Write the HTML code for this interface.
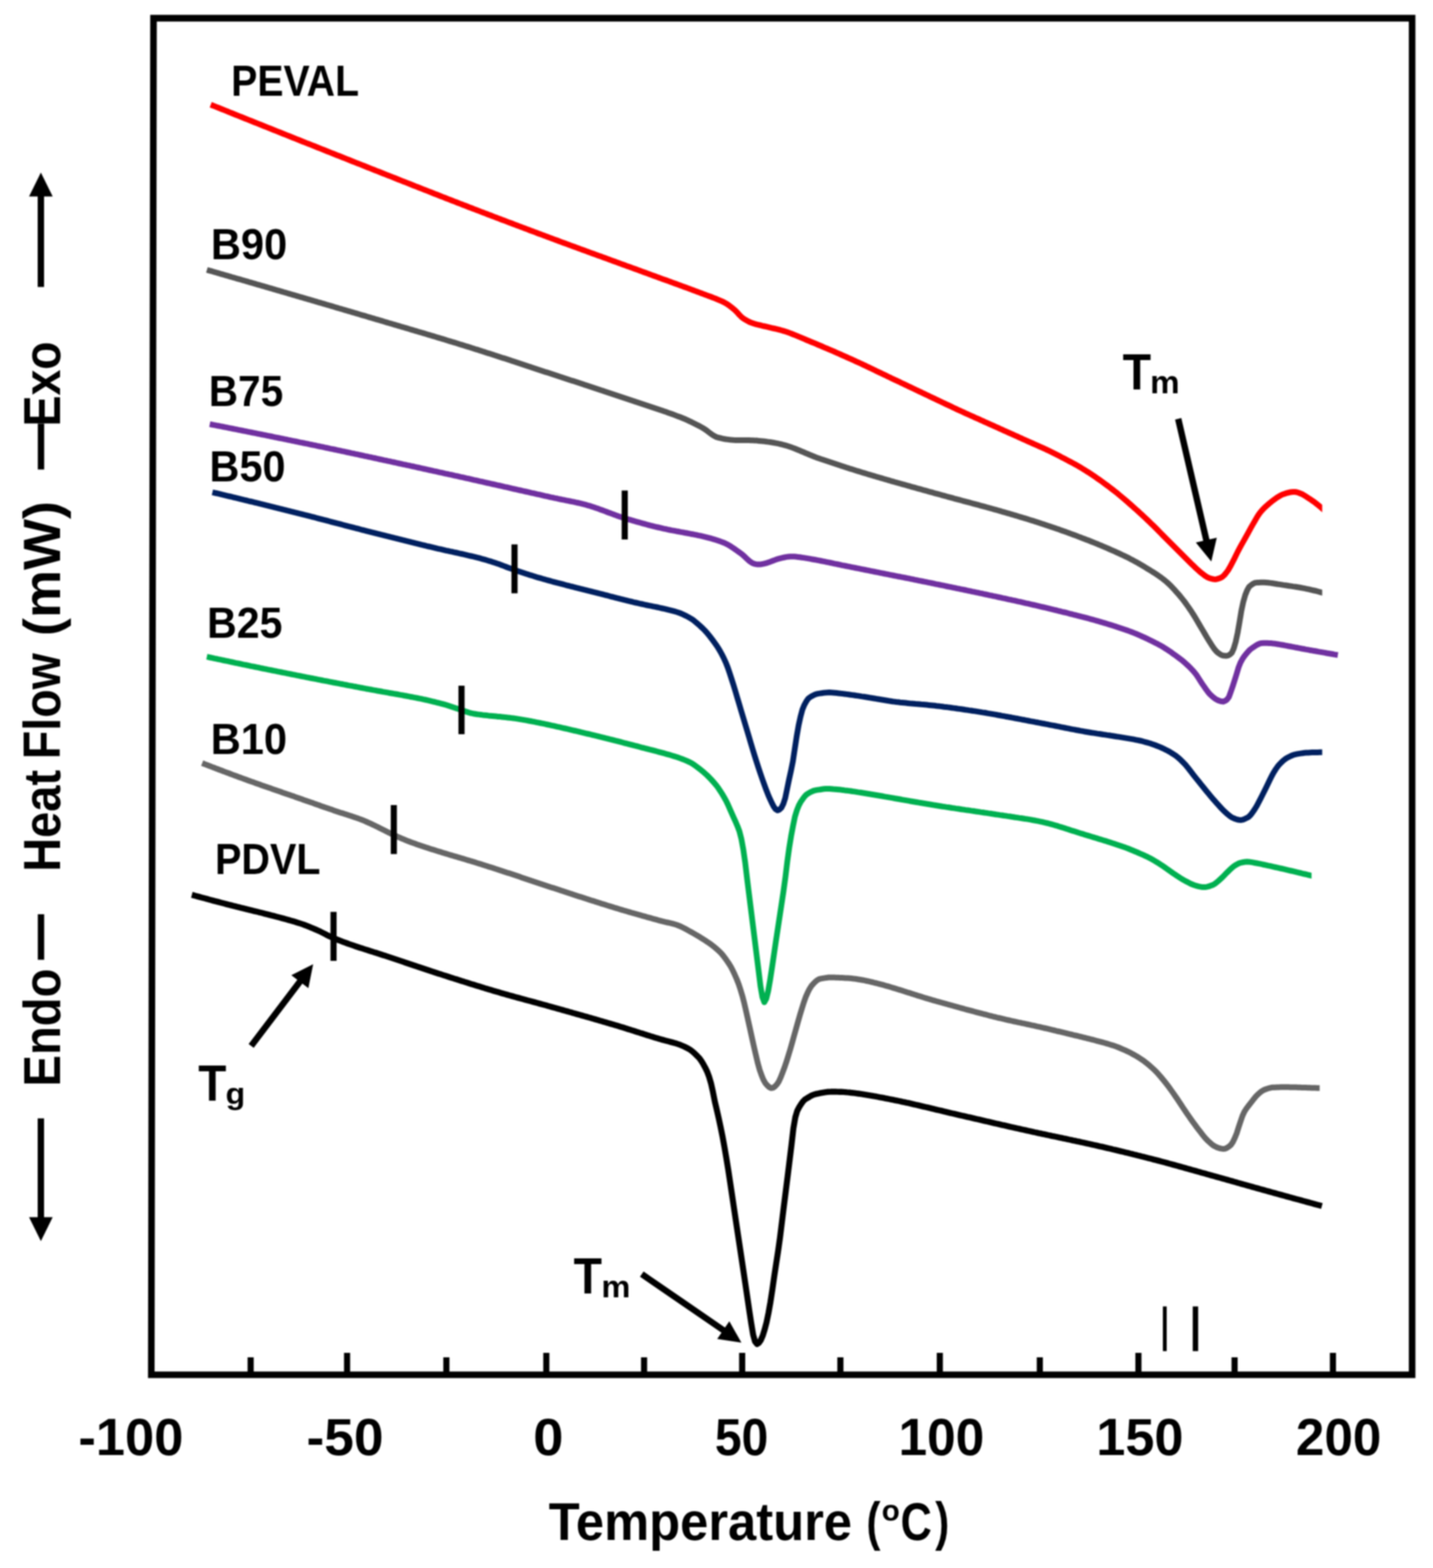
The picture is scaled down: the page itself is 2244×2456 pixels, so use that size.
<!DOCTYPE html>
<html lang="en">
<head>
<meta charset="utf-8">
<title>DSC thermograms</title>
<style>
html,body{margin:0;padding:0;background:#fff;}
body{width:2244px;height:2456px;overflow:hidden;}
svg{display:block;filter:blur(1px);}
text{font-family:"Liberation Sans",sans-serif;font-weight:bold;fill:#000;}
.c{fill:none;stroke-linejoin:round;stroke-linecap:butt;}
</style>
</head>
<body>
<svg xmlns="http://www.w3.org/2000/svg" width="2244" height="2456" viewBox="0 0 2244 2456">
<rect width="2244" height="2456" fill="#fff"/>
<g id="frame" stroke="#000" fill="none">
<path d="M240.4,28.5 L2211.3,28.5 L2211.3,2153.4 L236.9,2153.4 Z" stroke-width="10.3" stroke-linejoin="miter"/>
<line x1="392.5" y1="2153.4" x2="392.5" y2="2126.0" stroke-width="9.6"/>
<line x1="543.5" y1="2153.4" x2="543.5" y2="2119.0" stroke-width="9.6"/>
<line x1="699.0" y1="2153.4" x2="699.0" y2="2126.0" stroke-width="9.6"/>
<line x1="855.5" y1="2153.4" x2="855.5" y2="2119.0" stroke-width="9.6"/>
<line x1="1008.6" y1="2153.4" x2="1008.6" y2="2126.0" stroke-width="9.6"/>
<line x1="1162.2" y1="2153.4" x2="1162.2" y2="2119.0" stroke-width="9.6"/>
<line x1="1316.0" y1="2153.4" x2="1316.0" y2="2126.0" stroke-width="9.6"/>
<line x1="1471.7" y1="2153.4" x2="1471.7" y2="2119.0" stroke-width="9.6"/>
<line x1="1628.3" y1="2153.4" x2="1628.3" y2="2126.0" stroke-width="9.6"/>
<line x1="1782.7" y1="2153.4" x2="1782.7" y2="2119.0" stroke-width="9.6"/>
<line x1="1933.3" y1="2153.4" x2="1933.3" y2="2126.0" stroke-width="9.6"/>
<line x1="2087.3" y1="2153.4" x2="2087.3" y2="2119.0" stroke-width="9.6"/>
</g>
<g id="curves">
<clipPath id="cl-red"><rect x="0" y="0" width="2070.5" height="2456"/></clipPath>
<path class="c" stroke="#ff0000" stroke-width="9.0" clip-path="url(#cl-red)" d="M330.0,164.0 L333.0,165.2 L336.0,166.4 L339.0,167.6 L342.0,168.8 L345.0,170.0 L348.0,171.2 L351.0,172.4 L354.0,173.6 L357.0,174.8 L360.0,176.1 L363.0,177.3 L366.0,178.5 L369.0,179.7 L372.0,180.9 L375.0,182.1 L378.0,183.3 L381.0,184.5 L384.0,185.7 L387.0,186.9 L390.0,188.1 L393.0,189.3 L396.0,190.5 L399.0,191.7 L402.0,192.9 L405.0,194.1 L408.0,195.3 L411.0,196.5 L414.0,197.7 L417.0,198.9 L420.0,200.1 L423.0,201.3 L426.0,202.5 L429.0,203.7 L432.0,204.9 L435.0,206.1 L438.0,207.3 L441.0,208.5 L444.0,209.7 L447.0,210.9 L450.0,212.1 L453.0,213.3 L456.0,214.5 L459.0,215.7 L462.0,216.9 L465.0,218.1 L468.0,219.3 L471.0,220.5 L474.0,221.7 L477.0,222.9 L480.0,224.1 L483.0,225.2 L486.0,226.4 L489.0,227.6 L492.0,228.8 L495.0,230.0 L498.0,231.2 L501.0,232.4 L504.0,233.6 L507.0,234.8 L510.0,236.0 L513.0,237.2 L516.0,238.4 L519.0,239.6 L522.0,240.8 L525.0,242.0 L528.0,243.2 L531.0,244.3 L534.0,245.5 L537.0,246.7 L540.0,247.9 L543.0,249.1 L546.0,250.3 L549.0,251.5 L552.0,252.7 L555.0,253.9 L558.0,255.1 L561.0,256.3 L564.0,257.4 L567.0,258.6 L570.0,259.8 L573.0,261.0 L576.0,262.2 L579.0,263.4 L582.0,264.6 L585.0,265.8 L588.0,267.0 L591.0,268.1 L594.0,269.3 L597.0,270.5 L600.0,271.7 L603.0,272.9 L606.0,274.1 L609.0,275.3 L612.0,276.4 L615.0,277.6 L618.0,278.8 L621.0,280.0 L624.0,281.2 L627.0,282.4 L630.0,283.6 L633.0,284.8 L636.0,285.9 L639.0,287.1 L642.0,288.3 L645.0,289.5 L648.0,290.7 L651.0,291.9 L654.0,293.0 L657.0,294.2 L660.0,295.4 L663.0,296.6 L666.0,297.8 L669.0,298.9 L672.0,300.1 L675.0,301.3 L678.0,302.5 L681.0,303.7 L684.0,304.8 L687.0,306.0 L690.0,307.2 L693.0,308.4 L696.0,309.5 L699.0,310.7 L702.0,311.9 L705.0,313.0 L708.0,314.2 L711.0,315.4 L714.0,316.5 L717.0,317.7 L720.0,318.9 L723.0,320.0 L726.0,321.2 L729.0,322.3 L732.0,323.5 L735.0,324.7 L738.0,325.8 L741.0,327.0 L744.0,328.1 L747.0,329.3 L750.0,330.4 L753.0,331.6 L756.0,332.7 L759.0,333.9 L762.0,335.0 L765.0,336.2 L768.0,337.3 L771.0,338.5 L774.0,339.6 L777.0,340.7 L780.0,341.9 L783.0,343.0 L786.0,344.2 L789.0,345.3 L792.0,346.4 L795.0,347.6 L798.0,348.7 L801.0,349.8 L804.0,351.0 L807.0,352.1 L810.0,353.3 L813.0,354.4 L816.0,355.5 L819.0,356.6 L822.0,357.8 L825.0,358.9 L828.0,360.0 L831.0,361.2 L834.0,362.3 L837.0,363.4 L840.0,364.5 L843.0,365.7 L846.0,366.8 L849.0,367.9 L852.0,369.0 L855.0,370.1 L858.0,371.3 L861.0,372.4 L864.0,373.5 L867.0,374.6 L870.0,375.7 L873.0,376.8 L876.0,378.0 L879.0,379.1 L882.0,380.2 L885.0,381.3 L888.0,382.4 L891.0,383.5 L894.0,384.6 L897.0,385.7 L900.0,386.8 L903.0,387.9 L906.0,389.0 L909.0,390.1 L912.0,391.2 L915.0,392.3 L918.0,393.4 L921.0,394.5 L924.0,395.6 L927.0,396.7 L930.0,397.8 L933.0,398.9 L936.0,400.0 L939.0,401.1 L942.0,402.1 L945.0,403.2 L948.0,404.3 L951.0,405.4 L954.0,406.5 L957.0,407.6 L960.0,408.7 L963.0,409.8 L966.0,410.9 L969.0,412.0 L972.0,413.1 L975.0,414.2 L978.0,415.3 L981.0,416.4 L984.0,417.4 L987.0,418.5 L990.0,419.6 L993.0,420.7 L996.0,421.8 L999.0,422.9 L1002.0,424.0 L1005.0,425.1 L1008.0,426.2 L1011.0,427.3 L1014.0,428.4 L1017.0,429.5 L1020.0,430.6 L1023.0,431.7 L1026.0,432.8 L1029.0,433.9 L1032.0,435.0 L1035.0,436.1 L1038.0,437.2 L1041.0,438.2 L1044.0,439.3 L1047.0,440.4 L1050.0,441.5 L1053.0,442.6 L1056.0,443.7 L1059.0,444.8 L1062.0,445.9 L1065.0,447.0 L1068.0,448.1 L1071.0,449.2 L1074.0,450.3 L1077.0,451.4 L1080.0,452.5 L1083.0,453.6 L1086.0,454.8 L1089.0,455.9 L1092.0,457.0 L1095.0,458.1 L1098.0,459.2 L1101.0,460.4 L1104.0,461.5 L1107.0,462.6 L1110.0,463.7 L1113.0,464.8 L1116.0,466.0 L1119.0,467.1 L1122.0,468.3 L1125.0,469.6 L1128.0,470.9 L1131.0,472.2 L1134.0,473.6 L1137.0,475.3 L1140.0,477.3 L1143.0,479.4 L1146.0,481.8 L1149.0,484.2 L1152.0,486.8 L1155.0,490.0 L1158.0,493.4 L1161.0,496.4 L1164.0,498.8 L1167.0,500.7 L1170.0,502.4 L1173.0,504.0 L1176.0,505.3 L1179.0,506.4 L1182.0,507.3 L1185.0,508.1 L1188.0,508.8 L1191.0,509.5 L1194.0,510.3 L1197.0,511.0 L1200.0,511.7 L1203.0,512.4 L1206.0,513.1 L1209.0,513.8 L1212.0,514.5 L1215.0,515.2 L1218.0,515.9 L1221.0,516.7 L1224.0,517.5 L1227.0,518.4 L1230.0,519.3 L1233.0,520.3 L1236.0,521.4 L1239.0,522.5 L1242.0,523.7 L1245.0,524.9 L1248.0,526.1 L1251.0,527.4 L1254.0,528.6 L1257.0,529.9 L1260.0,531.2 L1263.0,532.5 L1266.0,533.7 L1269.0,535.0 L1272.0,536.2 L1275.0,537.4 L1278.0,538.7 L1281.0,540.0 L1284.0,541.2 L1287.0,542.5 L1290.0,543.8 L1293.0,545.1 L1296.0,546.3 L1299.0,547.6 L1302.0,548.9 L1305.0,550.2 L1308.0,551.5 L1311.0,552.9 L1314.0,554.2 L1317.0,555.5 L1320.0,556.8 L1323.0,558.2 L1326.0,559.5 L1329.0,560.8 L1332.0,562.2 L1335.0,563.5 L1338.0,564.9 L1341.0,566.3 L1344.0,567.6 L1347.0,569.0 L1350.0,570.4 L1353.0,571.8 L1356.0,573.2 L1359.0,574.7 L1362.0,576.1 L1365.0,577.5 L1368.0,579.0 L1371.0,580.4 L1374.0,581.9 L1377.0,583.3 L1380.0,584.7 L1383.0,586.2 L1386.0,587.6 L1389.0,589.1 L1392.0,590.5 L1395.0,591.9 L1398.0,593.4 L1401.0,594.8 L1404.0,596.2 L1407.0,597.6 L1410.0,599.1 L1413.0,600.5 L1416.0,601.9 L1419.0,603.3 L1422.0,604.8 L1425.0,606.2 L1428.0,607.6 L1431.0,609.0 L1434.0,610.5 L1437.0,611.9 L1440.0,613.3 L1443.0,614.7 L1446.0,616.2 L1449.0,617.6 L1452.0,619.0 L1455.0,620.4 L1458.0,621.9 L1461.0,623.3 L1464.0,624.7 L1467.0,626.2 L1470.0,627.6 L1473.0,629.0 L1476.0,630.5 L1479.0,631.9 L1482.0,633.3 L1485.0,634.7 L1488.0,636.1 L1491.0,637.6 L1494.0,639.0 L1497.0,640.4 L1500.0,641.8 L1503.0,643.1 L1506.0,644.5 L1509.0,645.9 L1512.0,647.3 L1515.0,648.6 L1518.0,650.0 L1521.0,651.4 L1524.0,652.7 L1527.0,654.1 L1530.0,655.4 L1533.0,656.7 L1536.0,658.1 L1539.0,659.4 L1542.0,660.8 L1545.0,662.1 L1548.0,663.5 L1551.0,664.8 L1554.0,666.2 L1557.0,667.5 L1560.0,668.9 L1563.0,670.2 L1566.0,671.6 L1569.0,672.9 L1572.0,674.3 L1575.0,675.6 L1578.0,677.0 L1581.0,678.3 L1584.0,679.7 L1587.0,681.0 L1590.0,682.4 L1593.0,683.7 L1596.0,685.1 L1599.0,686.4 L1602.0,687.8 L1605.0,689.1 L1608.0,690.5 L1611.0,691.8 L1614.0,693.2 L1617.0,694.5 L1620.0,695.8 L1623.0,697.1 L1626.0,698.5 L1629.0,699.8 L1632.0,701.2 L1635.0,702.5 L1638.0,703.9 L1641.0,705.3 L1644.0,706.8 L1647.0,708.3 L1650.0,709.8 L1653.0,711.3 L1656.0,712.8 L1659.0,714.3 L1662.0,715.9 L1665.0,717.4 L1668.0,719.0 L1671.0,720.6 L1674.0,722.2 L1677.0,723.8 L1680.0,725.4 L1683.0,727.0 L1686.0,728.7 L1689.0,730.4 L1692.0,732.2 L1695.0,734.0 L1698.0,735.8 L1701.0,737.7 L1704.0,739.6 L1707.0,741.6 L1710.0,743.6 L1713.0,745.6 L1716.0,747.6 L1719.0,749.7 L1722.0,751.8 L1725.0,753.9 L1728.0,756.1 L1731.0,758.3 L1734.0,760.5 L1737.0,762.8 L1740.0,765.1 L1743.0,767.4 L1746.0,769.7 L1749.0,772.1 L1752.0,774.6 L1755.0,777.1 L1758.0,779.6 L1761.0,782.2 L1764.0,784.7 L1767.0,787.4 L1770.0,790.0 L1773.0,792.6 L1776.0,795.3 L1779.0,798.0 L1782.0,800.7 L1785.0,803.5 L1788.0,806.2 L1791.0,809.0 L1794.0,811.8 L1797.0,814.6 L1800.0,817.5 L1803.0,820.4 L1806.0,823.3 L1809.0,826.3 L1812.0,829.3 L1815.0,832.4 L1818.0,835.4 L1821.0,838.5 L1824.0,841.5 L1827.0,844.5 L1830.0,847.5 L1833.0,850.5 L1836.0,853.5 L1839.0,856.5 L1842.0,859.5 L1845.0,862.5 L1848.0,865.5 L1851.0,868.5 L1854.0,871.5 L1857.0,874.5 L1860.0,877.5 L1863.0,880.5 L1866.0,883.4 L1869.0,886.3 L1872.0,889.2 L1875.0,892.0 L1878.0,894.7 L1881.0,897.2 L1884.0,899.6 L1887.0,901.9 L1890.0,903.8 L1893.0,905.2 L1896.0,906.2 L1899.0,907.0 L1902.0,907.4 L1905.0,907.2 L1908.0,906.4 L1911.0,905.2 L1914.0,903.7 L1917.0,901.0 L1920.0,897.4 L1923.0,893.4 L1926.0,888.3 L1929.0,882.6 L1932.0,876.9 L1935.0,870.8 L1938.0,864.6 L1941.0,858.9 L1944.0,853.4 L1947.0,848.1 L1950.0,842.8 L1953.0,837.3 L1956.0,831.8 L1959.0,826.4 L1962.0,821.1 L1965.0,815.9 L1968.0,810.7 L1971.0,806.0 L1974.0,801.9 L1977.0,798.5 L1980.0,795.4 L1983.0,792.6 L1986.0,790.0 L1989.0,787.4 L1992.0,785.0 L1995.0,782.7 L1998.0,780.6 L2001.0,778.6 L2004.0,776.7 L2007.0,775.1 L2010.0,773.9 L2013.0,772.9 L2016.0,772.0 L2019.0,771.3 L2022.0,770.8 L2025.0,770.5 L2028.0,770.5 L2031.0,771.0 L2034.0,772.0 L2037.0,773.2 L2040.0,774.5 L2043.0,776.3 L2046.0,778.2 L2049.0,780.2 L2052.0,782.1 L2055.0,784.2 L2058.0,786.3 L2061.0,788.6 L2064.0,791.0 L2067.0,793.4 L2070.0,796.0 L2073.0,798.6 L2076.0,801.3 L2079.0,804.1 L2080.0,805.0"/>
<clipPath id="cl-b90"><rect x="0" y="0" width="2070.5" height="2456"/></clipPath>
<path class="c" stroke="#555555" stroke-width="9.0" clip-path="url(#cl-b90)" d="M324.0,422.7 L327.0,423.6 L330.0,424.4 L333.0,425.3 L336.0,426.2 L339.0,427.0 L342.0,427.9 L345.0,428.8 L348.0,429.6 L351.0,430.5 L354.0,431.4 L357.0,432.2 L360.0,433.1 L363.0,434.0 L366.0,434.8 L369.0,435.7 L372.0,436.6 L375.0,437.4 L378.0,438.3 L381.0,439.2 L384.0,440.0 L387.0,440.9 L390.0,441.8 L393.0,442.6 L396.0,443.5 L399.0,444.4 L402.0,445.3 L405.0,446.1 L408.0,447.0 L411.0,447.9 L414.0,448.7 L417.0,449.6 L420.0,450.5 L423.0,451.4 L426.0,452.2 L429.0,453.1 L432.0,454.0 L435.0,454.9 L438.0,455.7 L441.0,456.6 L444.0,457.5 L447.0,458.3 L450.0,459.2 L453.0,460.1 L456.0,461.0 L459.0,461.9 L462.0,462.7 L465.0,463.6 L468.0,464.5 L471.0,465.4 L474.0,466.2 L477.0,467.1 L480.0,468.0 L483.0,468.9 L486.0,469.7 L489.0,470.6 L492.0,471.5 L495.0,472.4 L498.0,473.3 L501.0,474.1 L504.0,475.0 L507.0,475.9 L510.0,476.8 L513.0,477.7 L516.0,478.5 L519.0,479.4 L522.0,480.3 L525.0,481.2 L528.0,482.1 L531.0,483.0 L534.0,483.8 L537.0,484.7 L540.0,485.6 L543.0,486.5 L546.0,487.4 L549.0,488.2 L552.0,489.1 L555.0,490.0 L558.0,490.9 L561.0,491.8 L564.0,492.7 L567.0,493.6 L570.0,494.4 L573.0,495.3 L576.0,496.2 L579.0,497.1 L582.0,498.0 L585.0,498.9 L588.0,499.8 L591.0,500.6 L594.0,501.5 L597.0,502.4 L600.0,503.3 L603.0,504.2 L606.0,505.1 L609.0,506.0 L612.0,506.8 L615.0,507.7 L618.0,508.6 L621.0,509.5 L624.0,510.4 L627.0,511.3 L630.0,512.2 L633.0,513.0 L636.0,513.9 L639.0,514.8 L642.0,515.7 L645.0,516.6 L648.0,517.5 L651.0,518.4 L654.0,519.3 L657.0,520.2 L660.0,521.0 L663.0,521.9 L666.0,522.8 L669.0,523.7 L672.0,524.6 L675.0,525.5 L678.0,526.4 L681.0,527.3 L684.0,528.2 L687.0,529.1 L690.0,530.0 L693.0,530.9 L696.0,531.8 L699.0,532.8 L702.0,533.7 L705.0,534.6 L708.0,535.5 L711.0,536.4 L714.0,537.3 L717.0,538.2 L720.0,539.2 L723.0,540.1 L726.0,541.0 L729.0,542.0 L732.0,542.9 L735.0,543.8 L738.0,544.8 L741.0,545.7 L744.0,546.7 L747.0,547.6 L750.0,548.6 L753.0,549.5 L756.0,550.5 L759.0,551.4 L762.0,552.4 L765.0,553.4 L768.0,554.3 L771.0,555.3 L774.0,556.3 L777.0,557.2 L780.0,558.2 L783.0,559.2 L786.0,560.2 L789.0,561.1 L792.0,562.1 L795.0,563.1 L798.0,564.1 L801.0,565.1 L804.0,566.0 L807.0,567.0 L810.0,568.0 L813.0,569.0 L816.0,570.0 L819.0,571.0 L822.0,572.0 L825.0,573.0 L828.0,574.0 L831.0,574.9 L834.0,575.9 L837.0,576.9 L840.0,577.9 L843.0,578.9 L846.0,579.9 L849.0,580.9 L852.0,581.9 L855.0,582.9 L858.0,583.8 L861.0,584.8 L864.0,585.8 L867.0,586.8 L870.0,587.8 L873.0,588.8 L876.0,589.8 L879.0,590.7 L882.0,591.7 L885.0,592.7 L888.0,593.7 L891.0,594.7 L894.0,595.7 L897.0,596.6 L900.0,597.6 L903.0,598.6 L906.0,599.6 L909.0,600.6 L912.0,601.6 L915.0,602.6 L918.0,603.5 L921.0,604.5 L924.0,605.5 L927.0,606.5 L930.0,607.5 L933.0,608.5 L936.0,609.5 L939.0,610.5 L942.0,611.5 L945.0,612.4 L948.0,613.4 L951.0,614.4 L954.0,615.4 L957.0,616.4 L960.0,617.4 L963.0,618.4 L966.0,619.4 L969.0,620.4 L972.0,621.4 L975.0,622.4 L978.0,623.4 L981.0,624.4 L984.0,625.4 L987.0,626.4 L990.0,627.4 L993.0,628.4 L996.0,629.5 L999.0,630.5 L1002.0,631.5 L1005.0,632.5 L1008.0,633.5 L1011.0,634.5 L1014.0,635.5 L1017.0,636.5 L1020.0,637.5 L1023.0,638.5 L1026.0,639.5 L1029.0,640.5 L1032.0,641.5 L1035.0,642.5 L1038.0,643.5 L1041.0,644.6 L1044.0,645.6 L1047.0,646.7 L1050.0,647.7 L1053.0,648.8 L1056.0,649.9 L1059.0,651.1 L1062.0,652.2 L1065.0,653.3 L1068.0,654.5 L1071.0,655.7 L1074.0,657.0 L1077.0,658.4 L1080.0,659.8 L1083.0,661.2 L1086.0,662.7 L1089.0,664.2 L1092.0,665.7 L1095.0,667.3 L1098.0,668.9 L1101.0,670.6 L1104.0,672.5 L1107.0,674.7 L1110.0,677.0 L1113.0,679.3 L1116.0,681.4 L1119.0,683.2 L1122.0,684.6 L1125.0,685.5 L1128.0,686.2 L1131.0,686.9 L1134.0,687.5 L1137.0,688.0 L1140.0,688.4 L1143.0,688.8 L1146.0,689.1 L1149.0,689.3 L1152.0,689.4 L1155.0,689.4 L1158.0,689.5 L1161.0,689.5 L1164.0,689.5 L1167.0,689.6 L1170.0,689.6 L1173.0,689.6 L1176.0,689.7 L1179.0,689.8 L1182.0,689.9 L1185.0,690.1 L1188.0,690.4 L1191.0,690.7 L1194.0,691.0 L1197.0,691.3 L1200.0,691.7 L1203.0,692.1 L1206.0,692.5 L1209.0,693.0 L1212.0,693.5 L1215.0,694.1 L1218.0,694.7 L1221.0,695.3 L1224.0,696.0 L1227.0,696.8 L1230.0,697.6 L1233.0,698.5 L1236.0,699.5 L1239.0,700.5 L1242.0,701.6 L1245.0,702.8 L1248.0,704.0 L1251.0,705.2 L1254.0,706.5 L1257.0,707.7 L1260.0,709.0 L1263.0,710.3 L1266.0,711.5 L1269.0,712.8 L1272.0,714.0 L1275.0,715.2 L1278.0,716.4 L1281.0,717.5 L1284.0,718.5 L1287.0,719.6 L1290.0,720.6 L1293.0,721.6 L1296.0,722.6 L1299.0,723.6 L1302.0,724.6 L1305.0,725.6 L1308.0,726.6 L1311.0,727.6 L1314.0,728.6 L1317.0,729.6 L1320.0,730.5 L1323.0,731.5 L1326.0,732.5 L1329.0,733.4 L1332.0,734.4 L1335.0,735.3 L1338.0,736.2 L1341.0,737.2 L1344.0,738.1 L1347.0,739.0 L1350.0,740.0 L1353.0,740.9 L1356.0,741.8 L1359.0,742.7 L1362.0,743.6 L1365.0,744.5 L1368.0,745.4 L1371.0,746.3 L1374.0,747.2 L1377.0,748.0 L1380.0,748.9 L1383.0,749.8 L1386.0,750.7 L1389.0,751.5 L1392.0,752.4 L1395.0,753.3 L1398.0,754.1 L1401.0,755.0 L1404.0,755.8 L1407.0,756.7 L1410.0,757.5 L1413.0,758.4 L1416.0,759.2 L1419.0,760.0 L1422.0,760.9 L1425.0,761.7 L1428.0,762.6 L1431.0,763.4 L1434.0,764.2 L1437.0,765.1 L1440.0,765.9 L1443.0,766.7 L1446.0,767.6 L1449.0,768.4 L1452.0,769.2 L1455.0,770.1 L1458.0,770.9 L1461.0,771.7 L1464.0,772.6 L1467.0,773.4 L1470.0,774.2 L1473.0,775.0 L1476.0,775.9 L1479.0,776.7 L1482.0,777.5 L1485.0,778.3 L1488.0,779.1 L1491.0,779.9 L1494.0,780.8 L1497.0,781.6 L1500.0,782.4 L1503.0,783.2 L1506.0,784.0 L1509.0,784.8 L1512.0,785.6 L1515.0,786.4 L1518.0,787.2 L1521.0,788.0 L1524.0,788.8 L1527.0,789.6 L1530.0,790.4 L1533.0,791.2 L1536.0,792.1 L1539.0,792.9 L1542.0,793.7 L1545.0,794.5 L1548.0,795.3 L1551.0,796.2 L1554.0,797.0 L1557.0,797.9 L1560.0,798.7 L1563.0,799.5 L1566.0,800.4 L1569.0,801.3 L1572.0,802.1 L1575.0,803.0 L1578.0,803.9 L1581.0,804.7 L1584.0,805.6 L1587.0,806.5 L1590.0,807.4 L1593.0,808.3 L1596.0,809.2 L1599.0,810.1 L1602.0,811.0 L1605.0,811.9 L1608.0,812.8 L1611.0,813.8 L1614.0,814.7 L1617.0,815.6 L1620.0,816.6 L1623.0,817.5 L1626.0,818.5 L1629.0,819.5 L1632.0,820.5 L1635.0,821.4 L1638.0,822.4 L1641.0,823.4 L1644.0,824.4 L1647.0,825.5 L1650.0,826.5 L1653.0,827.5 L1656.0,828.6 L1659.0,829.6 L1662.0,830.7 L1665.0,831.8 L1668.0,832.8 L1671.0,833.9 L1674.0,835.0 L1677.0,836.1 L1680.0,837.2 L1683.0,838.3 L1686.0,839.4 L1689.0,840.6 L1692.0,841.7 L1695.0,842.9 L1698.0,844.0 L1701.0,845.2 L1704.0,846.3 L1707.0,847.5 L1710.0,848.7 L1713.0,849.9 L1716.0,851.1 L1719.0,852.3 L1722.0,853.6 L1725.0,854.8 L1728.0,856.1 L1731.0,857.4 L1734.0,858.7 L1737.0,860.0 L1740.0,861.3 L1743.0,862.6 L1746.0,863.9 L1749.0,865.3 L1752.0,866.7 L1755.0,868.1 L1758.0,869.5 L1761.0,870.9 L1764.0,872.3 L1767.0,873.8 L1770.0,875.4 L1773.0,876.9 L1776.0,878.6 L1779.0,880.2 L1782.0,881.9 L1785.0,883.7 L1788.0,885.4 L1791.0,887.2 L1794.0,889.0 L1797.0,890.9 L1800.0,892.7 L1803.0,894.5 L1806.0,896.4 L1809.0,898.3 L1812.0,900.3 L1815.0,902.4 L1818.0,904.5 L1821.0,906.8 L1824.0,909.1 L1827.0,911.6 L1830.0,914.3 L1833.0,917.2 L1836.0,920.3 L1839.0,923.5 L1842.0,926.9 L1845.0,930.3 L1848.0,933.8 L1851.0,937.5 L1854.0,941.3 L1857.0,945.3 L1860.0,949.5 L1863.0,953.9 L1866.0,958.3 L1869.0,963.0 L1872.0,967.9 L1875.0,973.0 L1878.0,978.1 L1881.0,983.2 L1884.0,988.3 L1887.0,993.4 L1890.0,998.5 L1893.0,1003.4 L1896.0,1008.1 L1899.0,1012.8 L1902.0,1017.1 L1905.0,1020.5 L1908.0,1023.1 L1911.0,1025.1 L1914.0,1026.5 L1917.0,1027.1 L1920.0,1027.3 L1923.0,1026.9 L1926.0,1025.2 L1929.0,1022.5 L1932.0,1015.6 L1935.0,1005.5 L1938.0,991.6 L1941.0,974.5 L1944.0,956.3 L1947.0,942.4 L1950.0,932.0 L1953.0,924.5 L1956.0,919.1 L1959.0,916.6 L1962.0,914.5 L1965.0,913.0 L1968.0,912.6 L1971.0,912.4 L1974.0,912.3 L1977.0,912.2 L1980.0,912.2 L1983.0,912.4 L1986.0,912.7 L1989.0,913.1 L1992.0,913.5 L1995.0,914.0 L1998.0,914.5 L2001.0,915.0 L2004.0,915.4 L2007.0,915.9 L2010.0,916.4 L2013.0,916.8 L2016.0,917.2 L2019.0,917.7 L2022.0,918.1 L2025.0,918.6 L2028.0,919.0 L2031.0,919.5 L2034.0,920.0 L2037.0,920.5 L2040.0,921.1 L2043.0,921.7 L2046.0,922.3 L2049.0,922.9 L2052.0,923.6 L2055.0,924.3 L2058.0,925.0 L2061.0,925.7 L2064.0,926.5 L2067.0,927.3 L2070.0,928.1 L2073.0,929.0 L2076.0,929.8 L2079.0,930.7 L2080.0,931.0"/>
<path class="c" stroke="#7030a0" stroke-width="9.0" d="M328.5,664.4 L331.5,665.0 L334.5,665.6 L337.5,666.2 L340.5,666.8 L343.5,667.3 L346.5,667.9 L349.5,668.5 L352.5,669.1 L355.5,669.7 L358.5,670.3 L361.5,670.9 L364.5,671.5 L367.5,672.1 L370.5,672.7 L373.5,673.3 L376.5,673.9 L379.5,674.5 L382.5,675.1 L385.5,675.7 L388.5,676.3 L391.5,676.9 L394.5,677.5 L397.5,678.1 L400.5,678.7 L403.5,679.3 L406.5,679.9 L409.5,680.5 L412.5,681.1 L415.5,681.7 L418.5,682.3 L421.5,682.9 L424.5,683.5 L427.5,684.2 L430.5,684.8 L433.5,685.4 L436.5,686.0 L439.5,686.6 L442.5,687.2 L445.5,687.8 L448.5,688.4 L451.5,689.1 L454.5,689.7 L457.5,690.3 L460.5,690.9 L463.5,691.5 L466.5,692.1 L469.5,692.8 L472.5,693.4 L475.5,694.0 L478.5,694.6 L481.5,695.2 L484.5,695.9 L487.5,696.5 L490.5,697.1 L493.5,697.7 L496.5,698.4 L499.5,699.0 L502.5,699.6 L505.5,700.2 L508.5,700.9 L511.5,701.5 L514.5,702.1 L517.5,702.8 L520.5,703.4 L523.5,704.0 L526.5,704.7 L529.5,705.3 L532.5,705.9 L535.5,706.6 L538.5,707.2 L541.5,707.8 L544.5,708.5 L547.5,709.1 L550.5,709.8 L553.5,710.4 L556.5,711.1 L559.5,711.7 L562.5,712.3 L565.5,713.0 L568.5,713.6 L571.5,714.3 L574.5,714.9 L577.5,715.6 L580.5,716.2 L583.5,716.9 L586.5,717.5 L589.5,718.2 L592.5,718.8 L595.5,719.5 L598.5,720.1 L601.5,720.8 L604.5,721.4 L607.5,722.1 L610.5,722.7 L613.5,723.4 L616.5,724.0 L619.5,724.7 L622.5,725.3 L625.5,726.0 L628.5,726.6 L631.5,727.3 L634.5,727.9 L637.5,728.6 L640.5,729.2 L643.5,729.9 L646.5,730.5 L649.5,731.2 L652.5,731.8 L655.5,732.5 L658.5,733.2 L661.5,733.8 L664.5,734.5 L667.5,735.1 L670.5,735.8 L673.5,736.5 L676.5,737.1 L679.5,737.8 L682.5,738.4 L685.5,739.1 L688.5,739.8 L691.5,740.4 L694.5,741.1 L697.5,741.8 L700.5,742.4 L703.5,743.1 L706.5,743.7 L709.5,744.4 L712.5,745.1 L715.5,745.7 L718.5,746.4 L721.5,747.1 L724.5,747.7 L727.5,748.4 L730.5,749.1 L733.5,749.7 L736.5,750.4 L739.5,751.1 L742.5,751.8 L745.5,752.4 L748.5,753.1 L751.5,753.8 L754.5,754.4 L757.5,755.1 L760.5,755.8 L763.5,756.5 L766.5,757.1 L769.5,757.8 L772.5,758.5 L775.5,759.2 L778.5,759.9 L781.5,760.5 L784.5,761.2 L787.5,761.9 L790.5,762.6 L793.5,763.2 L796.5,763.9 L799.5,764.6 L802.5,765.3 L805.5,766.0 L808.5,766.6 L811.5,767.3 L814.5,768.0 L817.5,768.7 L820.5,769.3 L823.5,770.0 L826.5,770.7 L829.5,771.4 L832.5,772.1 L835.5,772.7 L838.5,773.4 L841.5,774.1 L844.5,774.7 L847.5,775.4 L850.5,776.1 L853.5,776.8 L856.5,777.4 L859.5,778.1 L862.5,778.8 L865.5,779.4 L868.5,780.1 L871.5,780.7 L874.5,781.4 L877.5,782.0 L880.5,782.6 L883.5,783.2 L886.5,783.8 L889.5,784.4 L892.5,785.0 L895.5,785.6 L898.5,786.2 L901.5,786.9 L904.5,787.5 L907.5,788.2 L910.5,788.9 L913.5,789.7 L916.5,790.4 L919.5,791.3 L922.5,792.1 L925.5,793.1 L928.5,794.0 L931.5,795.0 L934.5,796.1 L937.5,797.1 L940.5,798.2 L943.5,799.3 L946.5,800.4 L949.5,801.5 L952.5,802.7 L955.5,803.8 L958.5,804.9 L961.5,806.0 L964.5,807.1 L967.5,808.2 L970.5,809.2 L973.5,810.2 L976.5,811.1 L979.5,812.1 L982.5,813.0 L985.5,813.9 L988.5,814.7 L991.5,815.6 L994.5,816.5 L997.5,817.4 L1000.5,818.2 L1003.5,819.0 L1006.5,819.9 L1009.5,820.7 L1012.5,821.5 L1015.5,822.3 L1018.5,823.1 L1021.5,823.8 L1024.5,824.6 L1027.5,825.3 L1030.5,826.0 L1033.5,826.7 L1036.5,827.4 L1039.5,828.1 L1042.5,828.7 L1045.5,829.4 L1048.5,830.0 L1051.5,830.6 L1054.5,831.1 L1057.5,831.7 L1060.5,832.3 L1063.5,832.8 L1066.5,833.4 L1069.5,833.9 L1072.5,834.5 L1075.5,835.0 L1078.5,835.6 L1081.5,836.2 L1084.5,836.7 L1087.5,837.3 L1090.5,837.9 L1093.5,838.6 L1096.5,839.2 L1099.5,839.9 L1102.5,840.6 L1105.5,841.3 L1108.5,842.1 L1111.5,842.9 L1114.5,843.7 L1117.5,844.6 L1120.5,845.5 L1123.5,846.5 L1126.5,847.5 L1129.5,848.6 L1132.5,849.7 L1135.5,850.9 L1138.5,852.4 L1141.5,854.1 L1144.5,855.9 L1147.5,857.9 L1150.5,860.0 L1153.5,862.1 L1156.5,864.2 L1159.5,866.4 L1162.5,868.6 L1165.5,871.3 L1168.5,874.2 L1171.5,877.0 L1174.5,879.6 L1177.5,881.6 L1180.5,882.9 L1183.5,883.6 L1186.5,884.1 L1189.5,884.0 L1192.5,883.7 L1195.5,883.1 L1198.5,882.4 L1201.5,881.6 L1204.5,880.6 L1207.5,879.4 L1210.5,878.2 L1213.5,877.1 L1216.5,876.0 L1219.5,875.1 L1222.5,874.4 L1225.5,873.7 L1228.5,873.0 L1231.5,872.4 L1234.5,872.0 L1237.5,871.7 L1240.5,871.7 L1243.5,871.8 L1246.5,872.1 L1249.5,872.4 L1252.5,872.7 L1255.5,873.2 L1258.5,873.6 L1261.5,874.1 L1264.5,874.6 L1267.5,875.1 L1270.5,875.7 L1273.5,876.2 L1276.5,876.7 L1279.5,877.3 L1282.5,877.9 L1285.5,878.5 L1288.5,879.1 L1291.5,879.7 L1294.5,880.3 L1297.5,880.9 L1300.5,881.5 L1303.5,882.1 L1306.5,882.8 L1309.5,883.4 L1312.5,884.0 L1315.5,884.6 L1318.5,885.3 L1321.5,885.9 L1324.5,886.5 L1327.5,887.1 L1330.5,887.7 L1333.5,888.3 L1336.5,888.9 L1339.5,889.5 L1342.5,890.1 L1345.5,890.7 L1348.5,891.3 L1351.5,891.9 L1354.5,892.5 L1357.5,893.1 L1360.5,893.7 L1363.5,894.3 L1366.5,894.9 L1369.5,895.5 L1372.5,896.1 L1375.5,896.7 L1378.5,897.3 L1381.5,897.9 L1384.5,898.5 L1387.5,899.1 L1390.5,899.7 L1393.5,900.3 L1396.5,900.9 L1399.5,901.5 L1402.5,902.1 L1405.5,902.7 L1408.5,903.2 L1411.5,903.8 L1414.5,904.4 L1417.5,905.0 L1420.5,905.6 L1423.5,906.2 L1426.5,906.8 L1429.5,907.4 L1432.5,908.1 L1435.5,908.7 L1438.5,909.3 L1441.5,909.9 L1444.5,910.5 L1447.5,911.1 L1450.5,911.7 L1453.5,912.3 L1456.5,912.9 L1459.5,913.5 L1462.5,914.1 L1465.5,914.8 L1468.5,915.4 L1471.5,916.0 L1474.5,916.6 L1477.5,917.2 L1480.5,917.8 L1483.5,918.5 L1486.5,919.1 L1489.5,919.7 L1492.5,920.3 L1495.5,920.9 L1498.5,921.6 L1501.5,922.2 L1504.5,922.8 L1507.5,923.4 L1510.5,924.0 L1513.5,924.7 L1516.5,925.3 L1519.5,925.9 L1522.5,926.6 L1525.5,927.2 L1528.5,927.8 L1531.5,928.4 L1534.5,929.1 L1537.5,929.7 L1540.5,930.4 L1543.5,931.0 L1546.5,931.6 L1549.5,932.3 L1552.5,932.9 L1555.5,933.6 L1558.5,934.2 L1561.5,934.8 L1564.5,935.5 L1567.5,936.1 L1570.5,936.8 L1573.5,937.4 L1576.5,938.1 L1579.5,938.8 L1582.5,939.4 L1585.5,940.1 L1588.5,940.7 L1591.5,941.4 L1594.5,942.1 L1597.5,942.7 L1600.5,943.4 L1603.5,944.1 L1606.5,944.8 L1609.5,945.4 L1612.5,946.1 L1615.5,946.8 L1618.5,947.5 L1621.5,948.2 L1624.5,948.9 L1627.5,949.6 L1630.5,950.3 L1633.5,951.0 L1636.5,951.7 L1639.5,952.4 L1642.5,953.1 L1645.5,953.9 L1648.5,954.6 L1651.5,955.3 L1654.5,956.0 L1657.5,956.8 L1660.5,957.5 L1663.5,958.3 L1666.5,959.0 L1669.5,959.7 L1672.5,960.5 L1675.5,961.3 L1678.5,962.0 L1681.5,962.8 L1684.5,963.5 L1687.5,964.3 L1690.5,965.1 L1693.5,965.9 L1696.5,966.6 L1699.5,967.4 L1702.5,968.2 L1705.5,969.0 L1708.5,969.9 L1711.5,970.7 L1714.5,971.5 L1717.5,972.4 L1720.5,973.2 L1723.5,974.1 L1726.5,975.0 L1729.5,975.9 L1732.5,976.8 L1735.5,977.7 L1738.5,978.6 L1741.5,979.5 L1744.5,980.5 L1747.5,981.4 L1750.5,982.4 L1753.5,983.4 L1756.5,984.4 L1759.5,985.4 L1762.5,986.4 L1765.5,987.5 L1768.5,988.6 L1771.5,989.7 L1774.5,990.9 L1777.5,992.1 L1780.5,993.3 L1783.5,994.6 L1786.5,996.0 L1789.5,997.3 L1792.5,998.7 L1795.5,1000.1 L1798.5,1001.6 L1801.5,1003.0 L1804.5,1004.5 L1807.5,1006.0 L1810.5,1007.6 L1813.5,1009.1 L1816.5,1010.7 L1819.5,1012.4 L1822.5,1014.2 L1825.5,1016.1 L1828.5,1018.0 L1831.5,1020.1 L1834.5,1022.1 L1837.5,1024.3 L1840.5,1026.4 L1843.5,1028.6 L1846.5,1030.9 L1849.5,1033.1 L1852.5,1035.5 L1855.5,1038.1 L1858.5,1040.8 L1861.5,1043.6 L1864.5,1046.7 L1867.5,1049.8 L1870.5,1053.2 L1873.5,1057.0 L1876.5,1061.6 L1879.5,1066.4 L1882.5,1071.0 L1885.5,1075.3 L1888.5,1079.6 L1891.5,1083.7 L1894.5,1087.2 L1897.5,1090.1 L1900.5,1092.7 L1903.5,1094.9 L1906.5,1096.5 L1909.5,1097.7 L1912.5,1098.6 L1915.5,1098.9 L1918.5,1097.8 L1921.5,1095.7 L1924.5,1091.6 L1927.5,1083.2 L1930.5,1074.5 L1933.5,1065.2 L1936.5,1055.5 L1939.5,1045.4 L1942.5,1037.9 L1945.5,1032.3 L1948.5,1027.9 L1951.5,1024.2 L1954.5,1020.6 L1957.5,1017.5 L1960.5,1015.2 L1963.5,1013.2 L1966.5,1011.2 L1969.5,1009.5 L1972.5,1008.2 L1975.5,1007.4 L1978.5,1007.2 L1981.5,1007.2 L1984.5,1007.2 L1987.5,1007.4 L1990.5,1007.6 L1993.5,1007.9 L1996.5,1008.3 L1999.5,1008.7 L2002.5,1009.2 L2005.5,1009.8 L2008.5,1010.3 L2011.5,1010.8 L2014.5,1011.4 L2017.5,1012.0 L2020.5,1012.5 L2023.5,1013.1 L2026.5,1013.7 L2029.5,1014.3 L2032.5,1014.8 L2035.5,1015.4 L2038.5,1016.0 L2041.5,1016.5 L2044.5,1017.1 L2047.5,1017.6 L2050.5,1018.2 L2053.5,1018.7 L2056.5,1019.3 L2059.5,1019.8 L2062.5,1020.3 L2065.5,1020.9 L2068.5,1021.4 L2071.5,1021.9 L2074.5,1022.4 L2077.5,1023.0 L2080.5,1023.5 L2083.5,1024.0 L2086.5,1024.5 L2089.5,1025.1 L2092.5,1025.6 L2095.0,1026.0"/>
<clipPath id="cl-b50"><rect x="0" y="0" width="2070.5" height="2456"/></clipPath>
<path class="c" stroke="#002060" stroke-width="9.0" clip-path="url(#cl-b50)" d="M332.6,771.1 L335.6,771.8 L338.6,772.5 L341.6,773.2 L344.6,773.9 L347.6,774.7 L350.6,775.4 L353.6,776.1 L356.6,776.8 L359.6,777.5 L362.6,778.2 L365.6,779.0 L368.6,779.7 L371.6,780.4 L374.6,781.1 L377.6,781.9 L380.6,782.6 L383.6,783.3 L386.6,784.0 L389.6,784.8 L392.6,785.5 L395.6,786.2 L398.6,787.0 L401.6,787.7 L404.6,788.4 L407.6,789.2 L410.6,789.9 L413.6,790.6 L416.6,791.4 L419.6,792.1 L422.6,792.9 L425.6,793.6 L428.6,794.3 L431.6,795.1 L434.6,795.8 L437.6,796.6 L440.6,797.3 L443.6,798.1 L446.6,798.8 L449.6,799.6 L452.6,800.3 L455.6,801.1 L458.6,801.8 L461.6,802.6 L464.6,803.3 L467.6,804.1 L470.6,804.8 L473.6,805.6 L476.6,806.4 L479.6,807.1 L482.6,807.9 L485.6,808.7 L488.6,809.5 L491.6,810.2 L494.6,811.0 L497.6,811.8 L500.6,812.6 L503.6,813.4 L506.6,814.2 L509.6,814.9 L512.6,815.7 L515.6,816.5 L518.6,817.3 L521.6,818.1 L524.6,818.9 L527.6,819.7 L530.6,820.4 L533.6,821.2 L536.6,822.0 L539.6,822.8 L542.6,823.6 L545.6,824.4 L548.6,825.1 L551.6,825.9 L554.6,826.7 L557.6,827.5 L560.6,828.2 L563.6,829.0 L566.6,829.8 L569.6,830.5 L572.6,831.3 L575.6,832.1 L578.6,832.8 L581.6,833.6 L584.6,834.3 L587.6,835.1 L590.6,835.9 L593.6,836.6 L596.6,837.4 L599.6,838.1 L602.6,838.9 L605.6,839.7 L608.6,840.4 L611.6,841.2 L614.6,841.9 L617.6,842.7 L620.6,843.4 L623.6,844.2 L626.6,844.9 L629.6,845.7 L632.6,846.4 L635.6,847.2 L638.6,847.9 L641.6,848.6 L644.6,849.4 L647.6,850.1 L650.6,850.9 L653.6,851.6 L656.6,852.3 L659.6,853.1 L662.6,853.8 L665.6,854.5 L668.6,855.3 L671.6,856.0 L674.6,856.7 L677.6,857.4 L680.6,858.1 L683.6,858.9 L686.6,859.6 L689.6,860.2 L692.6,860.9 L695.6,861.6 L698.6,862.3 L701.6,862.9 L704.6,863.6 L707.6,864.2 L710.6,864.9 L713.6,865.5 L716.6,866.2 L719.6,866.9 L722.6,867.5 L725.6,868.2 L728.6,868.9 L731.6,869.6 L734.6,870.3 L737.6,871.0 L740.6,871.7 L743.6,872.4 L746.6,873.2 L749.6,873.9 L752.6,874.7 L755.6,875.6 L758.6,876.4 L761.6,877.3 L764.6,878.2 L767.6,879.1 L770.6,880.1 L773.6,881.0 L776.6,882.0 L779.6,883.1 L782.6,884.1 L785.6,885.3 L788.6,886.4 L791.6,887.5 L794.6,888.7 L797.6,889.8 L800.6,890.9 L803.6,892.0 L806.6,893.0 L809.6,894.0 L812.6,895.0 L815.6,896.0 L818.6,897.0 L821.6,898.0 L824.6,899.0 L827.6,899.9 L830.6,900.9 L833.6,901.8 L836.6,902.7 L839.6,903.7 L842.6,904.6 L845.6,905.4 L848.6,906.3 L851.6,907.2 L854.6,908.0 L857.6,908.8 L860.6,909.6 L863.6,910.5 L866.6,911.3 L869.6,912.1 L872.6,912.9 L875.6,913.6 L878.6,914.4 L881.6,915.2 L884.6,916.0 L887.6,916.8 L890.6,917.5 L893.6,918.3 L896.6,919.0 L899.6,919.8 L902.6,920.6 L905.6,921.3 L908.6,922.1 L911.6,922.8 L914.6,923.6 L917.6,924.3 L920.6,925.1 L923.6,925.8 L926.6,926.6 L929.6,927.4 L932.6,928.1 L935.6,928.9 L938.6,929.7 L941.6,930.4 L944.6,931.2 L947.6,932.0 L950.6,932.7 L953.6,933.5 L956.6,934.3 L959.6,935.0 L962.6,935.8 L965.6,936.6 L968.6,937.3 L971.6,938.1 L974.6,938.8 L977.6,939.6 L980.6,940.3 L983.6,941.1 L986.6,941.8 L989.6,942.5 L992.6,943.3 L995.6,944.0 L998.6,944.7 L1001.6,945.4 L1004.6,946.0 L1007.6,946.7 L1010.6,947.3 L1013.6,948.0 L1016.6,948.6 L1019.6,949.2 L1022.6,949.8 L1025.6,950.4 L1028.6,951.0 L1031.6,951.7 L1034.6,952.3 L1037.6,953.0 L1040.6,953.6 L1043.6,954.3 L1046.6,955.1 L1049.6,955.8 L1052.6,956.6 L1055.6,957.4 L1058.6,958.3 L1061.6,959.2 L1064.6,960.3 L1067.6,961.5 L1070.6,962.9 L1073.6,964.3 L1076.6,965.9 L1079.6,967.5 L1082.6,969.3 L1085.6,971.3 L1088.6,973.7 L1091.6,976.2 L1094.6,978.8 L1097.6,981.6 L1100.6,984.4 L1103.6,987.4 L1106.6,990.7 L1109.6,994.3 L1112.6,998.1 L1115.6,1002.0 L1118.6,1006.1 L1121.6,1010.3 L1124.6,1014.9 L1127.6,1019.9 L1130.6,1025.4 L1133.6,1031.3 L1136.6,1037.8 L1139.6,1045.5 L1142.6,1054.3 L1145.6,1063.5 L1148.6,1072.9 L1151.6,1082.7 L1154.6,1092.9 L1157.6,1103.1 L1160.6,1113.2 L1163.6,1123.2 L1166.6,1133.2 L1169.6,1143.2 L1172.6,1153.2 L1175.6,1163.4 L1178.6,1173.5 L1181.6,1183.4 L1184.6,1192.9 L1187.6,1202.2 L1190.6,1211.2 L1193.6,1219.9 L1196.6,1228.3 L1199.6,1236.5 L1202.6,1244.2 L1205.6,1251.2 L1208.6,1257.7 L1211.6,1263.4 L1214.6,1267.5 L1217.6,1269.3 L1220.6,1268.0 L1223.6,1265.2 L1226.6,1259.3 L1229.6,1250.1 L1232.6,1235.7 L1235.6,1221.0 L1238.6,1207.6 L1241.6,1192.7 L1244.6,1172.8 L1247.6,1153.3 L1250.6,1136.0 L1253.6,1122.4 L1256.6,1111.2 L1259.6,1104.1 L1262.6,1098.6 L1265.6,1094.3 L1268.6,1092.0 L1271.6,1090.2 L1274.6,1088.6 L1277.6,1087.3 L1280.6,1086.6 L1283.6,1086.1 L1286.6,1085.7 L1289.6,1085.3 L1292.6,1084.9 L1295.6,1084.7 L1298.6,1084.6 L1301.6,1084.8 L1304.6,1085.0 L1307.6,1085.3 L1310.6,1085.6 L1313.6,1085.9 L1316.6,1086.3 L1319.6,1086.6 L1322.6,1087.0 L1325.6,1087.4 L1328.6,1087.8 L1331.6,1088.2 L1334.6,1088.6 L1337.6,1089.0 L1340.6,1089.5 L1343.6,1089.9 L1346.6,1090.4 L1349.6,1090.9 L1352.6,1091.3 L1355.6,1091.8 L1358.6,1092.3 L1361.6,1092.8 L1364.6,1093.2 L1367.6,1093.7 L1370.6,1094.2 L1373.6,1094.8 L1376.6,1095.3 L1379.6,1095.8 L1382.6,1096.3 L1385.6,1096.8 L1388.6,1097.3 L1391.6,1097.8 L1394.6,1098.2 L1397.6,1098.7 L1400.6,1099.1 L1403.6,1099.5 L1406.6,1099.8 L1409.6,1100.2 L1412.6,1100.5 L1415.6,1100.8 L1418.6,1101.1 L1421.6,1101.4 L1424.6,1101.7 L1427.6,1101.9 L1430.6,1102.2 L1433.6,1102.5 L1436.6,1102.7 L1439.6,1103.0 L1442.6,1103.3 L1445.6,1103.5 L1448.6,1103.8 L1451.6,1104.1 L1454.6,1104.4 L1457.6,1104.7 L1460.6,1105.0 L1463.6,1105.3 L1466.6,1105.7 L1469.6,1106.0 L1472.6,1106.4 L1475.6,1106.8 L1478.6,1107.2 L1481.6,1107.5 L1484.6,1107.9 L1487.6,1108.3 L1490.6,1108.7 L1493.6,1109.1 L1496.6,1109.5 L1499.6,1110.0 L1502.6,1110.4 L1505.6,1110.8 L1508.6,1111.2 L1511.6,1111.7 L1514.6,1112.1 L1517.6,1112.6 L1520.6,1113.0 L1523.6,1113.5 L1526.6,1113.9 L1529.6,1114.4 L1532.6,1114.9 L1535.6,1115.4 L1538.6,1115.9 L1541.6,1116.3 L1544.6,1116.8 L1547.6,1117.4 L1550.6,1117.9 L1553.6,1118.4 L1556.6,1118.9 L1559.6,1119.4 L1562.6,1120.0 L1565.6,1120.5 L1568.6,1121.1 L1571.6,1121.6 L1574.6,1122.2 L1577.6,1122.7 L1580.6,1123.3 L1583.6,1123.8 L1586.6,1124.4 L1589.6,1125.0 L1592.6,1125.5 L1595.6,1126.1 L1598.6,1126.7 L1601.6,1127.3 L1604.6,1127.8 L1607.6,1128.4 L1610.6,1129.0 L1613.6,1129.6 L1616.6,1130.1 L1619.6,1130.7 L1622.6,1131.3 L1625.6,1131.8 L1628.6,1132.4 L1631.6,1133.0 L1634.6,1133.5 L1637.6,1134.1 L1640.6,1134.7 L1643.6,1135.3 L1646.6,1135.9 L1649.6,1136.4 L1652.6,1137.0 L1655.6,1137.6 L1658.6,1138.2 L1661.6,1138.8 L1664.6,1139.4 L1667.6,1140.0 L1670.6,1140.6 L1673.6,1141.2 L1676.6,1141.8 L1679.6,1142.4 L1682.6,1142.9 L1685.6,1143.5 L1688.6,1144.0 L1691.6,1144.6 L1694.6,1145.1 L1697.6,1145.7 L1700.6,1146.2 L1703.6,1146.7 L1706.6,1147.2 L1709.6,1147.7 L1712.6,1148.1 L1715.6,1148.6 L1718.6,1149.1 L1721.6,1149.5 L1724.6,1150.0 L1727.6,1150.5 L1730.6,1150.9 L1733.6,1151.4 L1736.6,1151.8 L1739.6,1152.3 L1742.6,1152.7 L1745.6,1153.2 L1748.6,1153.7 L1751.6,1154.1 L1754.6,1154.6 L1757.6,1155.1 L1760.6,1155.6 L1763.6,1156.1 L1766.6,1156.6 L1769.6,1157.1 L1772.6,1157.6 L1775.6,1158.2 L1778.6,1158.8 L1781.6,1159.4 L1784.6,1160.0 L1787.6,1160.7 L1790.6,1161.5 L1793.6,1162.3 L1796.6,1163.1 L1799.6,1164.0 L1802.6,1164.9 L1805.6,1165.9 L1808.6,1167.0 L1811.6,1168.2 L1814.6,1169.4 L1817.6,1170.7 L1820.6,1172.0 L1823.6,1173.4 L1826.6,1174.9 L1829.6,1176.5 L1832.6,1178.2 L1835.6,1180.1 L1838.6,1182.0 L1841.6,1184.0 L1844.6,1186.4 L1847.6,1189.1 L1850.6,1192.0 L1853.6,1195.0 L1856.6,1198.2 L1859.6,1201.8 L1862.6,1205.6 L1865.6,1209.5 L1868.6,1213.4 L1871.6,1217.2 L1874.6,1221.0 L1877.6,1224.7 L1880.6,1228.5 L1883.6,1232.2 L1886.6,1235.9 L1889.6,1239.6 L1892.6,1243.2 L1895.6,1246.8 L1898.6,1250.4 L1901.6,1253.8 L1904.6,1257.2 L1907.6,1260.6 L1910.6,1263.9 L1913.6,1267.1 L1916.6,1270.2 L1919.6,1272.9 L1922.6,1275.6 L1925.6,1278.0 L1928.6,1280.1 L1931.6,1281.5 L1934.6,1282.7 L1937.6,1283.7 L1940.6,1284.2 L1943.6,1284.4 L1946.6,1283.8 L1949.6,1282.6 L1952.6,1281.1 L1955.6,1279.3 L1958.6,1276.3 L1961.6,1272.3 L1964.6,1267.9 L1967.6,1263.0 L1970.6,1257.4 L1973.6,1251.6 L1976.6,1245.8 L1979.6,1239.8 L1982.6,1233.7 L1985.6,1227.6 L1988.6,1221.3 L1991.6,1215.2 L1994.6,1209.8 L1997.6,1205.0 L2000.6,1200.7 L2003.6,1197.1 L2006.6,1194.1 L2009.6,1191.3 L2012.6,1188.9 L2015.6,1187.0 L2018.6,1185.5 L2021.6,1184.0 L2024.6,1182.8 L2027.6,1181.8 L2030.6,1181.2 L2033.6,1180.6 L2036.6,1180.1 L2039.6,1179.7 L2042.6,1179.3 L2045.6,1179.0 L2048.6,1178.9 L2051.6,1178.7 L2054.6,1178.6 L2057.6,1178.5 L2060.6,1178.5 L2063.6,1178.4 L2066.6,1178.3 L2069.6,1178.3 L2072.6,1178.3 L2075.6,1178.4 L2078.6,1178.5 L2080.0,1178.5"/>
<clipPath id="cl-b25"><rect x="0" y="0" width="2053.8" height="2456"/></clipPath>
<path class="c" stroke="#00b050" stroke-width="9.0" clip-path="url(#cl-b25)" d="M323.9,1028.7 L326.9,1029.3 L329.9,1030.0 L332.9,1030.6 L335.9,1031.3 L338.9,1031.9 L341.9,1032.6 L344.9,1033.2 L347.9,1033.8 L350.9,1034.5 L353.9,1035.1 L356.9,1035.7 L359.9,1036.4 L362.9,1037.0 L365.9,1037.6 L368.9,1038.3 L371.9,1038.9 L374.9,1039.5 L377.9,1040.1 L380.9,1040.8 L383.9,1041.4 L386.9,1042.0 L389.9,1042.6 L392.9,1043.3 L395.9,1043.9 L398.9,1044.5 L401.9,1045.1 L404.9,1045.7 L407.9,1046.4 L410.9,1047.0 L413.9,1047.6 L416.9,1048.2 L419.9,1048.8 L422.9,1049.4 L425.9,1050.0 L428.9,1050.6 L431.9,1051.2 L434.9,1051.8 L437.9,1052.4 L440.9,1053.0 L443.9,1053.6 L446.9,1054.2 L449.9,1054.8 L452.9,1055.4 L455.9,1056.0 L458.9,1056.6 L461.9,1057.2 L464.9,1057.8 L467.9,1058.4 L470.9,1059.0 L473.9,1059.6 L476.9,1060.2 L479.9,1060.8 L482.9,1061.4 L485.9,1062.0 L488.9,1062.5 L491.9,1063.1 L494.9,1063.7 L497.9,1064.3 L500.9,1064.9 L503.9,1065.5 L506.9,1066.1 L509.9,1066.6 L512.9,1067.2 L515.9,1067.8 L518.9,1068.4 L521.9,1069.0 L524.9,1069.5 L527.9,1070.1 L530.9,1070.7 L533.9,1071.3 L536.9,1071.8 L539.9,1072.4 L542.9,1073.0 L545.9,1073.6 L548.9,1074.1 L551.9,1074.7 L554.9,1075.3 L557.9,1075.8 L560.9,1076.4 L563.9,1077.0 L566.9,1077.5 L569.9,1078.1 L572.9,1078.7 L575.9,1079.2 L578.9,1079.8 L581.9,1080.3 L584.9,1080.9 L587.9,1081.4 L590.9,1082.0 L593.9,1082.5 L596.9,1083.0 L599.9,1083.6 L602.9,1084.1 L605.9,1084.6 L608.9,1085.2 L611.9,1085.7 L614.9,1086.2 L617.9,1086.8 L620.9,1087.3 L623.9,1087.8 L626.9,1088.4 L629.9,1088.9 L632.9,1089.5 L635.9,1090.0 L638.9,1090.6 L641.9,1091.2 L644.9,1091.7 L647.9,1092.3 L650.9,1092.9 L653.9,1093.5 L656.9,1094.1 L659.9,1094.7 L662.9,1095.4 L665.9,1096.0 L668.9,1096.7 L671.9,1097.4 L674.9,1098.1 L677.9,1098.8 L680.9,1099.5 L683.9,1100.3 L686.9,1101.0 L689.9,1101.8 L692.9,1102.6 L695.9,1103.4 L698.9,1104.3 L701.9,1105.3 L704.9,1106.3 L707.9,1107.3 L710.9,1108.3 L713.9,1109.3 L716.9,1110.3 L719.9,1111.3 L722.9,1112.3 L725.9,1113.3 L728.9,1114.3 L731.9,1115.4 L734.9,1116.3 L737.9,1117.1 L740.9,1117.7 L743.9,1118.2 L746.9,1118.7 L749.9,1119.1 L752.9,1119.5 L755.9,1119.9 L758.9,1120.2 L761.9,1120.5 L764.9,1120.9 L767.9,1121.2 L770.9,1121.5 L773.9,1121.8 L776.9,1122.1 L779.9,1122.4 L782.9,1122.6 L785.9,1122.9 L788.9,1123.2 L791.9,1123.6 L794.9,1123.9 L797.9,1124.2 L800.9,1124.6 L803.9,1125.0 L806.9,1125.4 L809.9,1125.9 L812.9,1126.4 L815.9,1126.9 L818.9,1127.4 L821.9,1127.9 L824.9,1128.4 L827.9,1129.0 L830.9,1129.5 L833.9,1130.1 L836.9,1130.7 L839.9,1131.3 L842.9,1131.9 L845.9,1132.5 L848.9,1133.1 L851.9,1133.7 L854.9,1134.3 L857.9,1135.0 L860.9,1135.6 L863.9,1136.3 L866.9,1136.9 L869.9,1137.6 L872.9,1138.3 L875.9,1138.9 L878.9,1139.6 L881.9,1140.3 L884.9,1141.0 L887.9,1141.7 L890.9,1142.4 L893.9,1143.1 L896.9,1143.8 L899.9,1144.5 L902.9,1145.2 L905.9,1145.9 L908.9,1146.7 L911.9,1147.4 L914.9,1148.1 L917.9,1148.8 L920.9,1149.5 L923.9,1150.2 L926.9,1151.0 L929.9,1151.7 L932.9,1152.4 L935.9,1153.1 L938.9,1153.9 L941.9,1154.6 L944.9,1155.3 L947.9,1156.1 L950.9,1156.8 L953.9,1157.6 L956.9,1158.3 L959.9,1159.1 L962.9,1159.9 L965.9,1160.6 L968.9,1161.4 L971.9,1162.2 L974.9,1163.0 L977.9,1163.8 L980.9,1164.5 L983.9,1165.3 L986.9,1166.1 L989.9,1166.9 L992.9,1167.7 L995.9,1168.4 L998.9,1169.2 L1001.9,1170.0 L1004.9,1170.8 L1007.9,1171.5 L1010.9,1172.3 L1013.9,1173.1 L1016.9,1173.9 L1019.9,1174.6 L1022.9,1175.4 L1025.9,1176.2 L1028.9,1177.0 L1031.9,1177.8 L1034.9,1178.6 L1037.9,1179.4 L1040.9,1180.2 L1043.9,1181.1 L1046.9,1181.9 L1049.9,1182.8 L1052.9,1183.7 L1055.9,1184.6 L1058.9,1185.5 L1061.9,1186.5 L1064.9,1187.6 L1067.9,1188.7 L1070.9,1189.9 L1073.9,1191.1 L1076.9,1192.4 L1079.9,1193.8 L1082.9,1195.4 L1085.9,1197.3 L1088.9,1199.4 L1091.9,1201.6 L1094.9,1203.9 L1097.9,1206.3 L1100.9,1208.7 L1103.9,1211.3 L1106.9,1214.0 L1109.9,1217.0 L1112.9,1220.1 L1115.9,1223.4 L1118.9,1226.8 L1121.9,1230.4 L1124.9,1234.4 L1127.9,1238.9 L1130.9,1243.6 L1133.9,1248.7 L1136.9,1254.1 L1139.9,1260.3 L1142.9,1267.1 L1145.9,1273.9 L1148.9,1280.6 L1151.9,1287.2 L1154.9,1294.2 L1157.9,1302.2 L1160.9,1313.8 L1163.9,1330.2 L1166.9,1350.8 L1169.9,1376.1 L1172.9,1400.3 L1175.9,1424.3 L1178.9,1448.3 L1181.9,1472.3 L1184.9,1496.5 L1187.9,1520.4 L1190.9,1544.7 L1193.9,1561.9 L1196.9,1569.8 L1199.9,1564.4 L1202.9,1552.4 L1205.9,1535.3 L1208.9,1515.7 L1211.9,1495.6 L1214.9,1475.2 L1217.9,1455.4 L1220.9,1435.6 L1223.9,1415.8 L1226.9,1396.0 L1229.9,1374.2 L1232.9,1349.2 L1235.9,1327.6 L1238.9,1309.2 L1241.9,1293.3 L1244.9,1278.9 L1247.9,1269.2 L1250.9,1261.7 L1253.9,1256.0 L1256.9,1251.7 L1259.9,1247.6 L1262.9,1244.5 L1265.9,1242.6 L1268.9,1240.9 L1271.9,1239.5 L1274.9,1238.3 L1277.9,1237.6 L1280.9,1237.1 L1283.9,1236.7 L1286.9,1236.2 L1289.9,1235.8 L1292.9,1235.6 L1295.9,1235.4 L1298.9,1235.5 L1301.9,1235.7 L1304.9,1236.0 L1307.9,1236.2 L1310.9,1236.5 L1313.9,1236.8 L1316.9,1237.1 L1319.9,1237.5 L1322.9,1237.9 L1325.9,1238.2 L1328.9,1238.6 L1331.9,1239.0 L1334.9,1239.5 L1337.9,1239.9 L1340.9,1240.4 L1343.9,1240.9 L1346.9,1241.3 L1349.9,1241.8 L1352.9,1242.3 L1355.9,1242.8 L1358.9,1243.3 L1361.9,1243.8 L1364.9,1244.3 L1367.9,1244.8 L1370.9,1245.3 L1373.9,1245.8 L1376.9,1246.3 L1379.9,1246.8 L1382.9,1247.3 L1385.9,1247.9 L1388.9,1248.4 L1391.9,1248.9 L1394.9,1249.4 L1397.9,1249.9 L1400.9,1250.5 L1403.9,1251.0 L1406.9,1251.5 L1409.9,1252.0 L1412.9,1252.6 L1415.9,1253.1 L1418.9,1253.6 L1421.9,1254.1 L1424.9,1254.7 L1427.9,1255.2 L1430.9,1255.7 L1433.9,1256.2 L1436.9,1256.7 L1439.9,1257.3 L1442.9,1257.8 L1445.9,1258.3 L1448.9,1258.8 L1451.9,1259.3 L1454.9,1259.8 L1457.9,1260.3 L1460.9,1260.8 L1463.9,1261.2 L1466.9,1261.7 L1469.9,1262.2 L1472.9,1262.7 L1475.9,1263.2 L1478.9,1263.6 L1481.9,1264.1 L1484.9,1264.5 L1487.9,1265.0 L1490.9,1265.5 L1493.9,1265.9 L1496.9,1266.4 L1499.9,1266.8 L1502.9,1267.2 L1505.9,1267.7 L1508.9,1268.1 L1511.9,1268.6 L1514.9,1269.0 L1517.9,1269.4 L1520.9,1269.9 L1523.9,1270.3 L1526.9,1270.8 L1529.9,1271.2 L1532.9,1271.6 L1535.9,1272.1 L1538.9,1272.5 L1541.9,1273.0 L1544.9,1273.4 L1547.9,1273.9 L1550.9,1274.3 L1553.9,1274.8 L1556.9,1275.2 L1559.9,1275.7 L1562.9,1276.1 L1565.9,1276.6 L1568.9,1277.0 L1571.9,1277.5 L1574.9,1277.9 L1577.9,1278.4 L1580.9,1278.8 L1583.9,1279.3 L1586.9,1279.7 L1589.9,1280.2 L1592.9,1280.6 L1595.9,1281.1 L1598.9,1281.5 L1601.9,1282.0 L1604.9,1282.5 L1607.9,1282.9 L1610.9,1283.4 L1613.9,1283.9 L1616.9,1284.5 L1619.9,1285.0 L1622.9,1285.6 L1625.9,1286.2 L1628.9,1286.8 L1631.9,1287.4 L1634.9,1288.1 L1637.9,1288.8 L1640.9,1289.5 L1643.9,1290.3 L1646.9,1291.1 L1649.9,1292.0 L1652.9,1292.9 L1655.9,1293.7 L1658.9,1294.7 L1661.9,1295.6 L1664.9,1296.5 L1667.9,1297.5 L1670.9,1298.5 L1673.9,1299.4 L1676.9,1300.4 L1679.9,1301.4 L1682.9,1302.3 L1685.9,1303.3 L1688.9,1304.3 L1691.9,1305.2 L1694.9,1306.1 L1697.9,1307.1 L1700.9,1308.0 L1703.9,1308.9 L1706.9,1309.8 L1709.9,1310.7 L1712.9,1311.6 L1715.9,1312.5 L1718.9,1313.4 L1721.9,1314.4 L1724.9,1315.3 L1727.9,1316.2 L1730.9,1317.1 L1733.9,1318.1 L1736.9,1319.0 L1739.9,1320.0 L1742.9,1321.0 L1745.9,1321.9 L1748.9,1322.9 L1751.9,1323.9 L1754.9,1324.9 L1757.9,1326.0 L1760.9,1327.0 L1763.9,1328.1 L1766.9,1329.3 L1769.9,1330.5 L1772.9,1331.7 L1775.9,1333.0 L1778.9,1334.2 L1781.9,1335.5 L1784.9,1336.8 L1787.9,1338.1 L1790.9,1339.4 L1793.9,1340.8 L1796.9,1342.2 L1799.9,1343.7 L1802.9,1345.3 L1805.9,1347.0 L1808.9,1348.8 L1811.9,1350.6 L1814.9,1352.5 L1817.9,1354.5 L1820.9,1356.4 L1823.9,1358.5 L1826.9,1360.6 L1829.9,1362.7 L1832.9,1364.9 L1835.9,1367.0 L1838.9,1369.1 L1841.9,1371.1 L1844.9,1373.0 L1847.9,1375.0 L1850.9,1376.8 L1853.9,1378.6 L1856.9,1380.2 L1859.9,1381.8 L1862.9,1383.4 L1865.9,1384.8 L1868.9,1386.0 L1871.9,1387.0 L1874.9,1387.9 L1877.9,1388.6 L1880.9,1389.2 L1883.9,1389.5 L1886.9,1389.6 L1889.9,1389.1 L1892.9,1388.4 L1895.9,1387.3 L1898.9,1386.2 L1901.9,1384.6 L1904.9,1382.4 L1907.9,1379.9 L1910.9,1377.2 L1913.9,1374.4 L1916.9,1371.3 L1919.9,1368.2 L1922.9,1365.2 L1925.9,1362.3 L1928.9,1359.4 L1931.9,1357.0 L1934.9,1355.0 L1937.9,1353.3 L1940.9,1351.9 L1943.9,1351.2 L1946.9,1350.5 L1949.9,1350.0 L1952.9,1349.8 L1955.9,1350.0 L1958.9,1350.4 L1961.9,1350.9 L1964.9,1351.5 L1967.9,1352.0 L1970.9,1352.6 L1973.9,1353.2 L1976.9,1353.8 L1979.9,1354.5 L1982.9,1355.1 L1985.9,1355.8 L1988.9,1356.4 L1991.9,1357.1 L1994.9,1357.8 L1997.9,1358.5 L2000.9,1359.1 L2003.9,1359.8 L2006.9,1360.5 L2009.9,1361.2 L2012.9,1361.9 L2015.9,1362.6 L2018.9,1363.3 L2021.9,1364.0 L2024.9,1364.7 L2027.9,1365.4 L2030.9,1366.1 L2033.9,1366.8 L2036.9,1367.5 L2039.9,1368.3 L2042.9,1369.0 L2045.9,1369.7 L2048.9,1370.5 L2051.9,1371.2 L2054.9,1371.9 L2057.9,1372.7 L2060.0,1373.2"/>
<clipPath id="cl-b10"><rect x="0" y="0" width="2066.5" height="2456"/></clipPath>
<path class="c" stroke="#666666" stroke-width="9.0" clip-path="url(#cl-b10)" d="M316.6,1195.3 L319.6,1196.5 L322.6,1197.6 L325.6,1198.8 L328.6,1199.9 L331.6,1201.1 L334.6,1202.2 L337.6,1203.4 L340.6,1204.5 L343.6,1205.7 L346.6,1206.8 L349.6,1208.0 L352.6,1209.1 L355.6,1210.2 L358.6,1211.3 L361.6,1212.5 L364.6,1213.6 L367.6,1214.7 L370.6,1215.8 L373.6,1216.9 L376.6,1218.0 L379.6,1219.1 L382.6,1220.2 L385.6,1221.3 L388.6,1222.4 L391.6,1223.5 L394.6,1224.6 L397.6,1225.6 L400.6,1226.7 L403.6,1227.8 L406.6,1228.8 L409.6,1229.9 L412.6,1230.9 L415.6,1232.0 L418.6,1233.0 L421.6,1234.1 L424.6,1235.1 L427.6,1236.2 L430.6,1237.2 L433.6,1238.3 L436.6,1239.3 L439.6,1240.3 L442.6,1241.4 L445.6,1242.4 L448.6,1243.5 L451.6,1244.5 L454.6,1245.5 L457.6,1246.6 L460.6,1247.6 L463.6,1248.7 L466.6,1249.7 L469.6,1250.8 L472.6,1251.8 L475.6,1252.9 L478.6,1253.9 L481.6,1255.0 L484.6,1256.0 L487.6,1257.1 L490.6,1258.1 L493.6,1259.2 L496.6,1260.3 L499.6,1261.3 L502.6,1262.4 L505.6,1263.4 L508.6,1264.5 L511.6,1265.5 L514.6,1266.5 L517.6,1267.6 L520.6,1268.6 L523.6,1269.7 L526.6,1270.7 L529.6,1271.7 L532.6,1272.7 L535.6,1273.6 L538.6,1274.6 L541.6,1275.5 L544.6,1276.5 L547.6,1277.5 L550.6,1278.4 L553.6,1279.4 L556.6,1280.5 L559.6,1281.5 L562.6,1282.6 L565.6,1283.7 L568.6,1284.9 L571.6,1286.2 L574.6,1287.5 L577.6,1288.8 L580.6,1290.2 L583.6,1291.6 L586.6,1293.0 L589.6,1294.5 L592.6,1295.9 L595.6,1297.4 L598.6,1298.9 L601.6,1300.4 L604.6,1302.0 L607.6,1303.5 L610.6,1305.0 L613.6,1306.5 L616.6,1307.9 L619.6,1309.2 L622.6,1310.6 L625.6,1311.9 L628.6,1313.2 L631.6,1314.4 L634.6,1315.7 L637.6,1316.9 L640.6,1318.0 L643.6,1319.2 L646.6,1320.3 L649.6,1321.3 L652.6,1322.4 L655.6,1323.4 L658.6,1324.5 L661.6,1325.5 L664.6,1326.5 L667.6,1327.5 L670.6,1328.4 L673.6,1329.4 L676.6,1330.4 L679.6,1331.3 L682.6,1332.3 L685.6,1333.2 L688.6,1334.1 L691.6,1335.1 L694.6,1336.0 L697.6,1336.9 L700.6,1337.8 L703.6,1338.7 L706.6,1339.6 L709.6,1340.5 L712.6,1341.4 L715.6,1342.2 L718.6,1343.1 L721.6,1344.0 L724.6,1344.9 L727.6,1345.8 L730.6,1346.7 L733.6,1347.6 L736.6,1348.5 L739.6,1349.4 L742.6,1350.3 L745.6,1351.3 L748.6,1352.2 L751.6,1353.1 L754.6,1354.1 L757.6,1355.0 L760.6,1356.0 L763.6,1356.9 L766.6,1357.9 L769.6,1358.8 L772.6,1359.8 L775.6,1360.8 L778.6,1361.7 L781.6,1362.7 L784.6,1363.7 L787.6,1364.7 L790.6,1365.7 L793.6,1366.7 L796.6,1367.6 L799.6,1368.6 L802.6,1369.6 L805.6,1370.6 L808.6,1371.6 L811.6,1372.6 L814.6,1373.6 L817.6,1374.7 L820.6,1375.7 L823.6,1376.7 L826.6,1377.7 L829.6,1378.7 L832.6,1379.7 L835.6,1380.7 L838.6,1381.7 L841.6,1382.7 L844.6,1383.7 L847.6,1384.7 L850.6,1385.7 L853.6,1386.7 L856.6,1387.7 L859.6,1388.7 L862.6,1389.7 L865.6,1390.6 L868.6,1391.6 L871.6,1392.6 L874.6,1393.6 L877.6,1394.6 L880.6,1395.5 L883.6,1396.5 L886.6,1397.5 L889.6,1398.5 L892.6,1399.5 L895.6,1400.4 L898.6,1401.4 L901.6,1402.4 L904.6,1403.4 L907.6,1404.4 L910.6,1405.3 L913.6,1406.3 L916.6,1407.3 L919.6,1408.2 L922.6,1409.2 L925.6,1410.2 L928.6,1411.1 L931.6,1412.1 L934.6,1413.0 L937.6,1414.0 L940.6,1414.9 L943.6,1415.9 L946.6,1416.8 L949.6,1417.8 L952.6,1418.7 L955.6,1419.6 L958.6,1420.5 L961.6,1421.5 L964.6,1422.4 L967.6,1423.3 L970.6,1424.2 L973.6,1425.1 L976.6,1426.0 L979.6,1426.8 L982.6,1427.7 L985.6,1428.6 L988.6,1429.5 L991.6,1430.3 L994.6,1431.2 L997.6,1432.0 L1000.6,1432.9 L1003.6,1433.7 L1006.6,1434.6 L1009.6,1435.4 L1012.6,1436.3 L1015.6,1437.1 L1018.6,1437.9 L1021.6,1438.8 L1024.6,1439.6 L1027.6,1440.4 L1030.6,1441.3 L1033.6,1442.1 L1036.6,1442.9 L1039.6,1443.6 L1042.6,1444.3 L1045.6,1445.0 L1048.6,1445.7 L1051.6,1446.4 L1054.6,1447.2 L1057.6,1448.0 L1060.6,1449.0 L1063.6,1450.2 L1066.6,1451.5 L1069.6,1453.0 L1072.6,1454.5 L1075.6,1456.2 L1078.6,1457.9 L1081.6,1459.5 L1084.6,1461.2 L1087.6,1462.9 L1090.6,1464.6 L1093.6,1466.4 L1096.6,1468.2 L1099.6,1470.1 L1102.6,1472.0 L1105.6,1473.9 L1108.6,1475.9 L1111.6,1478.0 L1114.6,1480.2 L1117.6,1482.6 L1120.6,1485.0 L1123.6,1487.6 L1126.6,1490.3 L1129.6,1493.4 L1132.6,1497.0 L1135.6,1500.9 L1138.6,1505.2 L1141.6,1509.6 L1144.6,1514.5 L1147.6,1520.3 L1150.6,1526.7 L1153.6,1533.5 L1156.6,1541.2 L1159.6,1550.2 L1162.6,1560.2 L1165.6,1571.9 L1168.6,1585.0 L1171.6,1598.5 L1174.6,1612.0 L1177.6,1625.8 L1180.6,1639.2 L1183.6,1652.3 L1186.6,1665.0 L1189.6,1675.8 L1192.6,1684.3 L1195.6,1691.6 L1198.6,1696.8 L1201.6,1700.1 L1204.6,1702.9 L1207.6,1704.3 L1210.6,1703.8 L1213.6,1701.7 L1216.6,1698.5 L1219.6,1694.0 L1222.6,1687.4 L1225.6,1679.6 L1228.6,1671.6 L1231.6,1662.7 L1234.6,1653.2 L1237.6,1643.2 L1240.6,1632.7 L1243.6,1621.9 L1246.6,1611.3 L1249.6,1600.5 L1252.6,1590.0 L1255.6,1580.1 L1258.6,1570.5 L1261.6,1561.9 L1264.6,1555.1 L1267.6,1549.1 L1270.6,1544.3 L1273.6,1540.9 L1276.6,1537.9 L1279.6,1535.3 L1282.6,1533.6 L1285.6,1532.9 L1288.6,1532.4 L1291.6,1531.9 L1294.6,1531.4 L1297.6,1531.1 L1300.6,1531.0 L1303.6,1531.0 L1306.6,1531.1 L1309.6,1531.2 L1312.6,1531.3 L1315.6,1531.4 L1318.6,1531.5 L1321.6,1531.7 L1324.6,1531.9 L1327.6,1532.1 L1330.6,1532.3 L1333.6,1532.6 L1336.6,1532.9 L1339.6,1533.3 L1342.6,1533.7 L1345.6,1534.2 L1348.6,1534.7 L1351.6,1535.2 L1354.6,1535.8 L1357.6,1536.5 L1360.6,1537.1 L1363.6,1537.8 L1366.6,1538.5 L1369.6,1539.3 L1372.6,1540.0 L1375.6,1540.8 L1378.6,1541.6 L1381.6,1542.4 L1384.6,1543.2 L1387.6,1544.1 L1390.6,1544.9 L1393.6,1545.8 L1396.6,1546.7 L1399.6,1547.6 L1402.6,1548.5 L1405.6,1549.5 L1408.6,1550.4 L1411.6,1551.3 L1414.6,1552.3 L1417.6,1553.2 L1420.6,1554.2 L1423.6,1555.1 L1426.6,1556.1 L1429.6,1557.0 L1432.6,1558.0 L1435.6,1558.9 L1438.6,1559.9 L1441.6,1560.8 L1444.6,1561.8 L1447.6,1562.7 L1450.6,1563.6 L1453.6,1564.5 L1456.6,1565.4 L1459.6,1566.3 L1462.6,1567.1 L1465.6,1568.0 L1468.6,1568.8 L1471.6,1569.7 L1474.6,1570.5 L1477.6,1571.3 L1480.6,1572.2 L1483.6,1573.0 L1486.6,1573.8 L1489.6,1574.7 L1492.6,1575.5 L1495.6,1576.3 L1498.6,1577.2 L1501.6,1578.0 L1504.6,1578.8 L1507.6,1579.6 L1510.6,1580.5 L1513.6,1581.3 L1516.6,1582.1 L1519.6,1582.9 L1522.6,1583.7 L1525.6,1584.5 L1528.6,1585.3 L1531.6,1586.1 L1534.6,1586.9 L1537.6,1587.7 L1540.6,1588.5 L1543.6,1589.2 L1546.6,1590.0 L1549.6,1590.8 L1552.6,1591.5 L1555.6,1592.3 L1558.6,1593.0 L1561.6,1593.8 L1564.6,1594.5 L1567.6,1595.2 L1570.6,1595.9 L1573.6,1596.6 L1576.6,1597.3 L1579.6,1598.0 L1582.6,1598.7 L1585.6,1599.3 L1588.6,1600.0 L1591.6,1600.6 L1594.6,1601.3 L1597.6,1601.9 L1600.6,1602.6 L1603.6,1603.2 L1606.6,1603.8 L1609.6,1604.5 L1612.6,1605.1 L1615.6,1605.8 L1618.6,1606.4 L1621.6,1607.1 L1624.6,1607.8 L1627.6,1608.4 L1630.6,1609.1 L1633.6,1609.8 L1636.6,1610.5 L1639.6,1611.2 L1642.6,1611.9 L1645.6,1612.6 L1648.6,1613.3 L1651.6,1614.0 L1654.6,1614.8 L1657.6,1615.5 L1660.6,1616.2 L1663.6,1616.9 L1666.6,1617.6 L1669.6,1618.3 L1672.6,1619.1 L1675.6,1619.8 L1678.6,1620.5 L1681.6,1621.3 L1684.6,1622.0 L1687.6,1622.7 L1690.6,1623.5 L1693.6,1624.2 L1696.6,1625.0 L1699.6,1625.7 L1702.6,1626.5 L1705.6,1627.2 L1708.6,1628.0 L1711.6,1628.7 L1714.6,1629.5 L1717.6,1630.3 L1720.6,1631.1 L1723.6,1631.9 L1726.6,1632.7 L1729.6,1633.5 L1732.6,1634.4 L1735.6,1635.3 L1738.6,1636.2 L1741.6,1637.1 L1744.6,1638.0 L1747.6,1639.1 L1750.6,1640.3 L1753.6,1641.5 L1756.6,1642.8 L1759.6,1644.1 L1762.6,1645.4 L1765.6,1646.8 L1768.6,1648.3 L1771.6,1649.8 L1774.6,1651.5 L1777.6,1653.2 L1780.6,1654.9 L1783.6,1656.8 L1786.6,1658.7 L1789.6,1660.7 L1792.6,1662.9 L1795.6,1665.3 L1798.6,1667.7 L1801.6,1670.3 L1804.6,1673.0 L1807.6,1675.8 L1810.6,1678.7 L1813.6,1682.0 L1816.6,1685.4 L1819.6,1689.0 L1822.6,1692.6 L1825.6,1696.4 L1828.6,1700.3 L1831.6,1704.3 L1834.6,1708.5 L1837.6,1712.8 L1840.6,1717.1 L1843.6,1721.4 L1846.6,1725.9 L1849.6,1730.5 L1852.6,1735.1 L1855.6,1739.6 L1858.6,1744.0 L1861.6,1748.3 L1864.6,1752.6 L1867.6,1756.8 L1870.6,1760.9 L1873.6,1765.0 L1876.6,1768.9 L1879.6,1772.8 L1882.6,1776.7 L1885.6,1780.5 L1888.6,1783.9 L1891.6,1787.0 L1894.6,1789.7 L1897.6,1792.3 L1900.6,1794.5 L1903.6,1796.2 L1906.6,1797.5 L1909.6,1798.5 L1912.6,1799.1 L1915.6,1799.5 L1918.6,1799.2 L1921.6,1797.8 L1924.6,1795.8 L1927.6,1793.3 L1930.6,1788.7 L1933.6,1782.5 L1936.6,1775.1 L1939.6,1765.6 L1942.6,1756.6 L1945.6,1747.9 L1948.6,1741.3 L1951.6,1736.6 L1954.6,1732.6 L1957.6,1728.8 L1960.6,1725.0 L1963.6,1721.1 L1966.6,1717.4 L1969.6,1714.3 L1972.6,1711.7 L1975.6,1709.3 L1978.6,1707.5 L1981.6,1706.3 L1984.6,1705.2 L1987.6,1704.3 L1990.6,1703.6 L1993.6,1703.3 L1996.6,1703.2 L1999.6,1703.0 L2002.6,1702.9 L2005.6,1702.8 L2008.6,1702.7 L2011.6,1702.7 L2014.6,1702.7 L2017.6,1702.8 L2020.6,1702.9 L2023.6,1703.0 L2026.6,1703.1 L2029.6,1703.1 L2032.6,1703.2 L2035.6,1703.3 L2038.6,1703.4 L2041.6,1703.5 L2044.6,1703.6 L2047.6,1703.7 L2050.6,1703.8 L2053.6,1703.9 L2056.6,1704.0 L2059.6,1704.1 L2062.6,1704.2 L2065.6,1704.3 L2068.6,1704.4 L2071.6,1704.5 L2074.6,1704.6 L2075.0,1704.6"/>
<path class="c" stroke="#000000" stroke-width="9.4" d="M300.4,1401.6 L303.4,1402.4 L306.4,1403.3 L309.4,1404.1 L312.4,1404.9 L315.4,1405.7 L318.4,1406.5 L321.4,1407.3 L324.4,1408.1 L327.4,1409.0 L330.4,1409.8 L333.4,1410.6 L336.4,1411.4 L339.4,1412.1 L342.4,1412.9 L345.4,1413.7 L348.4,1414.5 L351.4,1415.3 L354.4,1416.1 L357.4,1416.9 L360.4,1417.6 L363.4,1418.4 L366.4,1419.2 L369.4,1419.9 L372.4,1420.7 L375.4,1421.4 L378.4,1422.2 L381.4,1422.9 L384.4,1423.6 L387.4,1424.4 L390.4,1425.1 L393.4,1425.8 L396.4,1426.6 L399.4,1427.3 L402.4,1428.0 L405.4,1428.8 L408.4,1429.5 L411.4,1430.3 L414.4,1431.1 L417.4,1431.8 L420.4,1432.6 L423.4,1433.4 L426.4,1434.2 L429.4,1434.9 L432.4,1435.7 L435.4,1436.5 L438.4,1437.3 L441.4,1438.1 L444.4,1438.9 L447.4,1439.7 L450.4,1440.6 L453.4,1441.4 L456.4,1442.3 L459.4,1443.1 L462.4,1444.0 L465.4,1445.0 L468.4,1445.9 L471.4,1446.9 L474.4,1447.9 L477.4,1449.0 L480.4,1450.1 L483.4,1451.3 L486.4,1452.6 L489.4,1453.8 L492.4,1455.1 L495.4,1456.4 L498.4,1457.7 L501.4,1459.1 L504.4,1460.6 L507.4,1462.1 L510.4,1463.7 L513.4,1465.2 L516.4,1466.7 L519.4,1468.1 L522.4,1469.4 L525.4,1470.6 L528.4,1471.9 L531.4,1473.0 L534.4,1474.2 L537.4,1475.3 L540.4,1476.4 L543.4,1477.5 L546.4,1478.6 L549.4,1479.6 L552.4,1480.6 L555.4,1481.7 L558.4,1482.7 L561.4,1483.7 L564.4,1484.7 L567.4,1485.6 L570.4,1486.6 L573.4,1487.6 L576.4,1488.5 L579.4,1489.5 L582.4,1490.4 L585.4,1491.4 L588.4,1492.3 L591.4,1493.3 L594.4,1494.2 L597.4,1495.2 L600.4,1496.2 L603.4,1497.1 L606.4,1498.1 L609.4,1499.1 L612.4,1500.1 L615.4,1501.1 L618.4,1502.1 L621.4,1503.1 L624.4,1504.1 L627.4,1505.1 L630.4,1506.1 L633.4,1507.2 L636.4,1508.2 L639.4,1509.2 L642.4,1510.2 L645.4,1511.2 L648.4,1512.2 L651.4,1513.2 L654.4,1514.3 L657.4,1515.3 L660.4,1516.3 L663.4,1517.3 L666.4,1518.3 L669.4,1519.3 L672.4,1520.3 L675.4,1521.3 L678.4,1522.2 L681.4,1523.2 L684.4,1524.2 L687.4,1525.2 L690.4,1526.1 L693.4,1527.1 L696.4,1528.1 L699.4,1529.0 L702.4,1530.0 L705.4,1531.0 L708.4,1531.9 L711.4,1532.9 L714.4,1533.8 L717.4,1534.8 L720.4,1535.7 L723.4,1536.7 L726.4,1537.6 L729.4,1538.6 L732.4,1539.5 L735.4,1540.5 L738.4,1541.4 L741.4,1542.3 L744.4,1543.3 L747.4,1544.2 L750.4,1545.1 L753.4,1546.0 L756.4,1546.9 L759.4,1547.9 L762.4,1548.8 L765.4,1549.7 L768.4,1550.6 L771.4,1551.5 L774.4,1552.4 L777.4,1553.2 L780.4,1554.1 L783.4,1555.0 L786.4,1555.9 L789.4,1556.7 L792.4,1557.6 L795.4,1558.4 L798.4,1559.3 L801.4,1560.1 L804.4,1560.9 L807.4,1561.8 L810.4,1562.6 L813.4,1563.4 L816.4,1564.2 L819.4,1565.0 L822.4,1565.9 L825.4,1566.7 L828.4,1567.5 L831.4,1568.3 L834.4,1569.1 L837.4,1569.9 L840.4,1570.7 L843.4,1571.6 L846.4,1572.4 L849.4,1573.2 L852.4,1574.0 L855.4,1574.8 L858.4,1575.7 L861.4,1576.5 L864.4,1577.4 L867.4,1578.2 L870.4,1579.0 L873.4,1579.9 L876.4,1580.7 L879.4,1581.6 L882.4,1582.4 L885.4,1583.3 L888.4,1584.1 L891.4,1585.0 L894.4,1585.8 L897.4,1586.7 L900.4,1587.5 L903.4,1588.4 L906.4,1589.2 L909.4,1590.1 L912.4,1590.9 L915.4,1591.8 L918.4,1592.6 L921.4,1593.5 L924.4,1594.3 L927.4,1595.2 L930.4,1596.1 L933.4,1596.9 L936.4,1597.8 L939.4,1598.7 L942.4,1599.5 L945.4,1600.4 L948.4,1601.3 L951.4,1602.2 L954.4,1603.1 L957.4,1603.9 L960.4,1604.8 L963.4,1605.7 L966.4,1606.6 L969.4,1607.5 L972.4,1608.4 L975.4,1609.3 L978.4,1610.3 L981.4,1611.2 L984.4,1612.2 L987.4,1613.1 L990.4,1614.1 L993.4,1615.0 L996.4,1616.0 L999.4,1616.9 L1002.4,1617.9 L1005.4,1618.8 L1008.4,1619.8 L1011.4,1620.7 L1014.4,1621.7 L1017.4,1622.6 L1020.4,1623.6 L1023.4,1624.5 L1026.4,1625.4 L1029.4,1626.3 L1032.4,1627.2 L1035.4,1628.1 L1038.4,1628.9 L1041.4,1629.7 L1044.4,1630.5 L1047.4,1631.3 L1050.4,1632.1 L1053.4,1632.9 L1056.4,1633.7 L1059.4,1634.6 L1062.4,1635.6 L1065.4,1636.7 L1068.4,1638.0 L1071.4,1639.3 L1074.4,1640.8 L1077.4,1642.3 L1080.4,1644.0 L1083.4,1646.2 L1086.4,1648.8 L1089.4,1651.6 L1092.4,1654.6 L1095.4,1657.8 L1098.4,1662.0 L1101.4,1666.9 L1104.4,1672.4 L1107.4,1678.6 L1110.4,1686.7 L1113.4,1696.8 L1116.4,1710.3 L1119.4,1725.4 L1122.4,1738.1 L1125.4,1751.3 L1128.4,1765.2 L1131.4,1780.0 L1134.4,1796.3 L1137.4,1813.9 L1140.4,1832.3 L1143.4,1852.1 L1146.4,1872.3 L1149.4,1892.4 L1152.4,1912.5 L1155.4,1932.5 L1158.4,1952.3 L1161.4,1972.2 L1164.4,1992.2 L1167.4,2012.4 L1170.4,2032.7 L1173.4,2053.1 L1176.4,2072.7 L1179.4,2090.8 L1182.4,2101.4 L1185.4,2105.2 L1188.4,2103.4 L1191.4,2099.0 L1194.4,2092.2 L1197.4,2082.5 L1200.4,2071.1 L1203.4,2056.6 L1206.4,2039.8 L1209.4,2020.4 L1212.4,1999.4 L1215.4,1979.6 L1218.4,1960.3 L1221.4,1938.9 L1224.4,1914.5 L1227.4,1890.1 L1230.4,1866.4 L1233.4,1842.5 L1236.4,1818.2 L1239.4,1793.6 L1242.4,1767.5 L1245.4,1750.2 L1248.4,1740.0 L1251.4,1734.3 L1254.4,1729.5 L1257.4,1725.3 L1260.4,1722.3 L1263.4,1720.4 L1266.4,1718.6 L1269.4,1716.8 L1272.4,1715.3 L1275.4,1714.2 L1278.4,1713.4 L1281.4,1712.8 L1284.4,1712.2 L1287.4,1711.6 L1290.4,1711.1 L1293.4,1710.6 L1296.4,1710.3 L1299.4,1710.1 L1302.4,1710.0 L1305.4,1710.0 L1308.4,1710.0 L1311.4,1710.1 L1314.4,1710.2 L1317.4,1710.3 L1320.4,1710.4 L1323.4,1710.6 L1326.4,1710.9 L1329.4,1711.1 L1332.4,1711.5 L1335.4,1711.8 L1338.4,1712.2 L1341.4,1712.6 L1344.4,1713.0 L1347.4,1713.4 L1350.4,1713.8 L1353.4,1714.3 L1356.4,1714.8 L1359.4,1715.3 L1362.4,1715.8 L1365.4,1716.3 L1368.4,1716.9 L1371.4,1717.4 L1374.4,1718.0 L1377.4,1718.6 L1380.4,1719.1 L1383.4,1719.7 L1386.4,1720.3 L1389.4,1720.9 L1392.4,1721.5 L1395.4,1722.1 L1398.4,1722.7 L1401.4,1723.3 L1404.4,1723.9 L1407.4,1724.5 L1410.4,1725.1 L1413.4,1725.8 L1416.4,1726.4 L1419.4,1727.1 L1422.4,1727.7 L1425.4,1728.4 L1428.4,1729.1 L1431.4,1729.8 L1434.4,1730.5 L1437.4,1731.2 L1440.4,1731.9 L1443.4,1732.6 L1446.4,1733.3 L1449.4,1734.0 L1452.4,1734.7 L1455.4,1735.4 L1458.4,1736.1 L1461.4,1736.8 L1464.4,1737.6 L1467.4,1738.3 L1470.4,1739.0 L1473.4,1739.7 L1476.4,1740.4 L1479.4,1741.2 L1482.4,1741.9 L1485.4,1742.6 L1488.4,1743.3 L1491.4,1744.0 L1494.4,1744.7 L1497.4,1745.4 L1500.4,1746.1 L1503.4,1746.8 L1506.4,1747.5 L1509.4,1748.2 L1512.4,1748.9 L1515.4,1749.6 L1518.4,1750.2 L1521.4,1750.9 L1524.4,1751.6 L1527.4,1752.3 L1530.4,1753.0 L1533.4,1753.7 L1536.4,1754.4 L1539.4,1755.1 L1542.4,1755.8 L1545.4,1756.5 L1548.4,1757.2 L1551.4,1757.9 L1554.4,1758.6 L1557.4,1759.3 L1560.4,1760.0 L1563.4,1760.7 L1566.4,1761.4 L1569.4,1762.1 L1572.4,1762.7 L1575.4,1763.4 L1578.4,1764.1 L1581.4,1764.8 L1584.4,1765.5 L1587.4,1766.2 L1590.4,1766.8 L1593.4,1767.5 L1596.4,1768.2 L1599.4,1768.9 L1602.4,1769.5 L1605.4,1770.2 L1608.4,1770.9 L1611.4,1771.5 L1614.4,1772.2 L1617.4,1772.8 L1620.4,1773.5 L1623.4,1774.1 L1626.4,1774.8 L1629.4,1775.4 L1632.4,1776.1 L1635.4,1776.7 L1638.4,1777.3 L1641.4,1778.0 L1644.4,1778.6 L1647.4,1779.3 L1650.4,1779.9 L1653.4,1780.5 L1656.4,1781.2 L1659.4,1781.8 L1662.4,1782.4 L1665.4,1783.1 L1668.4,1783.7 L1671.4,1784.3 L1674.4,1785.0 L1677.4,1785.6 L1680.4,1786.3 L1683.4,1786.9 L1686.4,1787.6 L1689.4,1788.2 L1692.4,1788.9 L1695.4,1789.5 L1698.4,1790.2 L1701.4,1790.8 L1704.4,1791.5 L1707.4,1792.2 L1710.4,1792.8 L1713.4,1793.5 L1716.4,1794.2 L1719.4,1794.9 L1722.4,1795.6 L1725.4,1796.2 L1728.4,1796.9 L1731.4,1797.6 L1734.4,1798.3 L1737.4,1799.0 L1740.4,1799.7 L1743.4,1800.5 L1746.4,1801.2 L1749.4,1801.9 L1752.4,1802.6 L1755.4,1803.3 L1758.4,1804.0 L1761.4,1804.8 L1764.4,1805.5 L1767.4,1806.2 L1770.4,1807.0 L1773.4,1807.7 L1776.4,1808.5 L1779.4,1809.2 L1782.4,1810.0 L1785.4,1810.7 L1788.4,1811.5 L1791.4,1812.2 L1794.4,1813.0 L1797.4,1813.8 L1800.4,1814.5 L1803.4,1815.3 L1806.4,1816.1 L1809.4,1816.8 L1812.4,1817.6 L1815.4,1818.4 L1818.4,1819.2 L1821.4,1820.0 L1824.4,1820.8 L1827.4,1821.6 L1830.4,1822.5 L1833.4,1823.3 L1836.4,1824.1 L1839.4,1824.9 L1842.4,1825.7 L1845.4,1826.6 L1848.4,1827.4 L1851.4,1828.2 L1854.4,1829.1 L1857.4,1829.9 L1860.4,1830.8 L1863.4,1831.6 L1866.4,1832.5 L1869.4,1833.3 L1872.4,1834.1 L1875.4,1835.0 L1878.4,1835.8 L1881.4,1836.7 L1884.4,1837.5 L1887.4,1838.3 L1890.4,1839.2 L1893.4,1840.0 L1896.4,1840.9 L1899.4,1841.7 L1902.4,1842.5 L1905.4,1843.4 L1908.4,1844.2 L1911.4,1845.0 L1914.4,1845.9 L1917.4,1846.7 L1920.4,1847.6 L1923.4,1848.4 L1926.4,1849.3 L1929.4,1850.1 L1932.4,1851.0 L1935.4,1851.8 L1938.4,1852.7 L1941.4,1853.5 L1944.4,1854.4 L1947.4,1855.2 L1950.4,1856.0 L1953.4,1856.9 L1956.4,1857.7 L1959.4,1858.6 L1962.4,1859.4 L1965.4,1860.3 L1968.4,1861.1 L1971.4,1861.9 L1974.4,1862.8 L1977.4,1863.6 L1980.4,1864.4 L1983.4,1865.3 L1986.4,1866.1 L1989.4,1866.9 L1992.4,1867.8 L1995.4,1868.6 L1998.4,1869.4 L2001.4,1870.3 L2004.4,1871.1 L2007.4,1871.9 L2010.4,1872.7 L2013.4,1873.6 L2016.4,1874.4 L2019.4,1875.2 L2022.4,1876.0 L2025.4,1876.9 L2028.4,1877.7 L2031.4,1878.5 L2034.4,1879.3 L2037.4,1880.1 L2040.4,1881.0 L2043.4,1881.8 L2046.4,1882.6 L2049.4,1883.4 L2052.4,1884.2 L2055.4,1885.0 L2058.4,1885.9 L2061.4,1886.7 L2064.4,1887.5 L2067.4,1888.3 L2070.0,1889.0"/>
</g>
<g id="marks" stroke="#000" stroke-width="9.6">
<line x1="978.3" y1="768.3" x2="978.3" y2="845"/>
<line x1="805.7" y1="852.7" x2="805.7" y2="929.3"/>
<line x1="722.7" y1="1074" x2="722.7" y2="1150"/>
<line x1="616.7" y1="1261" x2="616.7" y2="1337.7"/>
<line x1="522.3" y1="1428.3" x2="522.3" y2="1505"/>
<line x1="1824" y1="2046.3" x2="1824" y2="2116.3" stroke-width="6"/>
<line x1="1872" y1="2046.3" x2="1872" y2="2116.3" stroke-width="8.5"/>
</g>
<g id="arrows">
<line x1="393.3" y1="1638.3" x2="470.8" y2="1536.1" stroke="#000" stroke-width="10"/><polygon points="490.4,1510.2 482.9,1547.8 456.2,1527.5" fill="#000"/>
<line x1="1005.0" y1="1995.7" x2="1134.2" y2="2084.5" stroke="#000" stroke-width="10"/><polygon points="1161.0,2102.9 1123.1,2097.2 1142.1,2069.5" fill="#000"/>
<line x1="1845.0" y1="656.0" x2="1889.5" y2="847.9" stroke="#000" stroke-width="10"/><polygon points="1896.8,879.6 1872.6,849.8 1905.4,842.2" fill="#000"/>
</g>
<g id="labels">
<text x="362.0" y="150.3" font-size="69.0" textLength="200.2" lengthAdjust="spacingAndGlyphs">PEVAL</text>
<text x="330.2" y="406.1" font-size="69.0" textLength="119.6" lengthAdjust="spacingAndGlyphs">B90</text>
<text x="327.1" y="635.6" font-size="69.0" textLength="116.3" lengthAdjust="spacingAndGlyphs">B75</text>
<text x="328.1" y="754.4" font-size="69.0" textLength="119.0" lengthAdjust="spacingAndGlyphs">B50</text>
<text x="324.3" y="998.6" font-size="69.0" textLength="117.9" lengthAdjust="spacingAndGlyphs">B25</text>
<text x="329.9" y="1180.5" font-size="69.0" textLength="119.5" lengthAdjust="spacingAndGlyphs">B10</text>
<text x="336.8" y="1369.4" font-size="69.0" textLength="165.1" lengthAdjust="spacingAndGlyphs">PDVL</text>
<text x="310.6" y="1724.1" font-size="80.4" textLength="44.0" lengthAdjust="spacingAndGlyphs">T</text>
<text x="353.3" y="1729.4" font-size="47.0" textLength="30.7" lengthAdjust="spacingAndGlyphs">g</text>
<text x="898.3" y="2026.0" font-size="80.4" textLength="44.4" lengthAdjust="spacingAndGlyphs">T</text>
<text x="941.7" y="2032.4" font-size="48.5" textLength="45.4" lengthAdjust="spacingAndGlyphs">m</text>
<text x="1757.9" y="609.8" font-size="80.4" textLength="44.5" lengthAdjust="spacingAndGlyphs">T</text>
<text x="1801.0" y="615.9" font-size="49.3" textLength="46.2" lengthAdjust="spacingAndGlyphs">m</text>
</g>
<g id="xticks">
<text x="122.7" y="2278.6" font-size="82.0" textLength="164.4" lengthAdjust="spacingAndGlyphs">-100</text>
<text x="480.0" y="2278.6" font-size="82.0" textLength="120.5" lengthAdjust="spacingAndGlyphs">-50</text>
<text x="834.9" y="2278.6" font-size="82.0" textLength="47.3" lengthAdjust="spacingAndGlyphs">0</text>
<text x="1119.4" y="2278.6" font-size="82.0" textLength="83.7" lengthAdjust="spacingAndGlyphs">50</text>
<text x="1406.9" y="2278.6" font-size="82.0" textLength="134.6" lengthAdjust="spacingAndGlyphs">100</text>
<text x="1716.8" y="2278.6" font-size="82.0" textLength="136.4" lengthAdjust="spacingAndGlyphs">150</text>
<text x="2029.3" y="2278.6" font-size="82.0" textLength="133.8" lengthAdjust="spacingAndGlyphs">200</text>
</g>
<g id="xtitle">
<text x="859.2" y="2411.5" font-size="82.5" textLength="475.1" lengthAdjust="spacingAndGlyphs">Temperature</text>
<text x="1356.7" y="2411.5" font-size="82.5" textLength="22.0" lengthAdjust="spacingAndGlyphs">(</text>
<text x="1380.7" y="2381.5" font-size="47.0" textLength="28.2" lengthAdjust="spacingAndGlyphs">o</text>
<text x="1410.3" y="2411.5" font-size="82.5" textLength="48.9" lengthAdjust="spacingAndGlyphs">C</text>
<text x="1464.5" y="2411.5" font-size="82.5" textLength="22.0" lengthAdjust="spacingAndGlyphs">)</text>
</g>
<g id="ytitle">
<text transform="translate(94.3,1696.7) rotate(-90)" x="-5.2" y="0" font-size="82.0" textLength="184.8" lengthAdjust="spacingAndGlyphs">Endo</text>
<text transform="translate(94.3,1360.4) rotate(-90)" x="-5.2" y="0" font-size="82.0" textLength="159.7" lengthAdjust="spacingAndGlyphs">Heat</text>
<text transform="translate(94.3,1184.0) rotate(-90)" x="-5.1" y="0" font-size="82.0" textLength="165.9" lengthAdjust="spacingAndGlyphs">Flow</text>
<text transform="translate(94.3,992.0) rotate(-90)" x="-4.2" y="0" font-size="82.0" textLength="211.4" lengthAdjust="spacingAndGlyphs">(mW)</text>
<text transform="translate(94.3,663.0) rotate(-90)" x="-5.1" y="0" font-size="82.0" textLength="133.3" lengthAdjust="spacingAndGlyphs">Exo</text>
<line x1="64.2" y1="1503.3" x2="64.2" y2="1432" stroke="#000" stroke-width="10"/>
<line x1="64.2" y1="735.4" x2="64.2" y2="663.5" stroke="#000" stroke-width="10"/>
<line x1="64.0" y1="449.6" x2="64.0" y2="305.7" stroke="#000" stroke-width="10"/><polygon points="64.0,270.2 82.5,307.7 45.5,307.7" fill="#000"/>
<line x1="64.0" y1="1751.7" x2="64.0" y2="1908.5" stroke="#000" stroke-width="10"/><polygon points="64.0,1944.0 45.5,1906.5 82.5,1906.5" fill="#000"/>
</g>
</svg>
</body>
</html>
